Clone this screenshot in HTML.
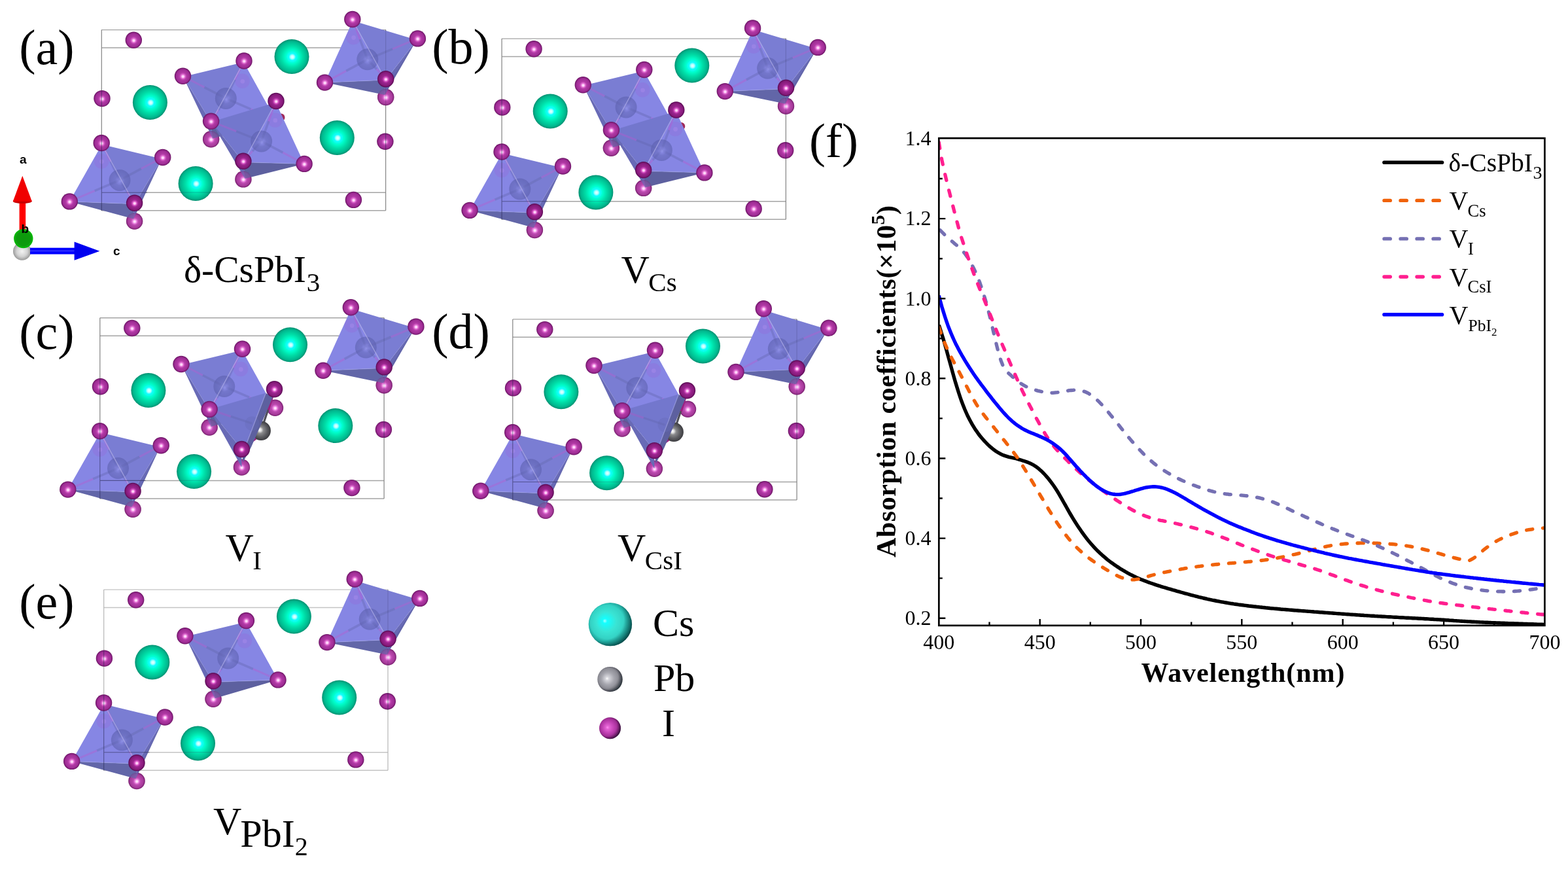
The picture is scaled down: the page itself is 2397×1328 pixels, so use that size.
<!DOCTYPE html>
<html lang="en"><head><meta charset="utf-8"><title>CsPbI3 defect structures and absorption coefficients</title>
<style>html,body{margin:0;padding:0;background:#fff;overflow:hidden}svg{display:block}text{font-family:"Liberation Serif","DejaVu Serif",serif;fill:#000}.sans{font-family:"Liberation Sans","DejaVu Sans",sans-serif;font-weight:bold}.b{font-weight:bold}</style></head><body>
<svg width="2397" height="1328" viewBox="0 0 2397 1328">
<defs>
<radialGradient id="gI" cx="0.5" cy="0.5" r="0.5" fx="0.51" fy="0.53">
<stop offset="0" stop-color="#fff4ff"/><stop offset="0.12" stop-color="#ffcaf8"/><stop offset="0.27" stop-color="#dc66cc"/>
<stop offset="0.44" stop-color="#b23aa6"/><stop offset="0.8" stop-color="#9e2c94"/><stop offset="0.92" stop-color="#7e1c76"/><stop offset="1" stop-color="#6a1662"/></radialGradient>
<radialGradient id="gIf" cx="0.5" cy="0.5" r="0.5" fx="0.51" fy="0.53">
<stop offset="0" stop-color="#fff4ff"/><stop offset="0.12" stop-color="#ffc0f4"/><stop offset="0.27" stop-color="#d24cc0"/>
<stop offset="0.44" stop-color="#9c2690"/><stop offset="0.8" stop-color="#861a7a"/><stop offset="0.92" stop-color="#6a1062"/><stop offset="1" stop-color="#580c52"/></radialGradient>
<radialGradient id="gIb" cx="0.5" cy="0.5" r="0.5" fx="0.51" fy="0.53">
<stop offset="0" stop-color="#fff6ff"/><stop offset="0.12" stop-color="#ffd4fa"/><stop offset="0.27" stop-color="#e67ada"/>
<stop offset="0.44" stop-color="#bc4ab0"/><stop offset="0.8" stop-color="#a63a9a"/><stop offset="0.92" stop-color="#8a2a80"/><stop offset="1" stop-color="#78206e"/></radialGradient>
<radialGradient id="gCs" cx="0.5" cy="0.5" r="0.5" fx="0.52" fy="0.51">
<stop offset="0" stop-color="#eaffff"/><stop offset="0.1" stop-color="#b0ffff"/><stop offset="0.2" stop-color="#10ffff"/>
<stop offset="0.4" stop-color="#00fcc8"/><stop offset="0.62" stop-color="#00dca6"/><stop offset="0.86" stop-color="#00ba90"/>
<stop offset="0.95" stop-color="#00a07c"/><stop offset="1" stop-color="#008e70"/></radialGradient>
<radialGradient id="gPb" cx="0.5" cy="0.5" r="0.5" fx="0.42" fy="0.45">
<stop offset="0" stop-color="#ffffff"/><stop offset="0.15" stop-color="#e8e8e8"/><stop offset="0.35" stop-color="#8a8a8c"/>
<stop offset="0.7" stop-color="#5c5c60"/><stop offset="1" stop-color="#3c3c40"/></radialGradient>
<radialGradient id="gLCs" cx="0.46" cy="0.46" r="0.55" fx="0.37" fy="0.42">
<stop offset="0" stop-color="#a8ffff"/><stop offset="0.1" stop-color="#14ffff"/><stop offset="0.42" stop-color="#3ae4d4"/>
<stop offset="0.7" stop-color="#34d2c4"/><stop offset="0.86" stop-color="#1fa69c"/><stop offset="1" stop-color="#0a6a68"/></radialGradient>
<radialGradient id="gLPb" cx="0.46" cy="0.47" r="0.55" fx="0.38" fy="0.47">
<stop offset="0" stop-color="#ffffff"/><stop offset="0.12" stop-color="#d6d6dc"/><stop offset="0.45" stop-color="#a6a6ae"/>
<stop offset="0.74" stop-color="#8c8c94"/><stop offset="0.9" stop-color="#5e5e68"/><stop offset="1" stop-color="#40404a"/></radialGradient>
<radialGradient id="gLI" cx="0.46" cy="0.47" r="0.55" fx="0.38" fy="0.47">
<stop offset="0" stop-color="#ff8cf2"/><stop offset="0.15" stop-color="#e262d2"/><stop offset="0.5" stop-color="#c040b2"/>
<stop offset="0.76" stop-color="#a22e96"/><stop offset="0.9" stop-color="#74186c"/><stop offset="1" stop-color="#4e0a4a"/></radialGradient>
<radialGradient id="gGreen" cx="0.5" cy="0.5" r="0.5" fx="0.5" fy="0.5">
<stop offset="0" stop-color="#0c980c"/><stop offset="0.75" stop-color="#0c9c0c"/><stop offset="1" stop-color="#04c004"/></radialGradient>
<radialGradient id="gGrey" cx="0.5" cy="0.5" r="0.5" fx="0.5" fy="0.5">
<stop offset="0" stop-color="#f4f4f4"/><stop offset="0.6" stop-color="#d2d2d2"/><stop offset="1" stop-color="#9a9a9a"/></radialGradient>
<radialGradient id="gGhost" cx="0.5" cy="0.5" r="0.5" fx="0.52" fy="0.54">
<stop offset="0" stop-color="#a4a6fa"/><stop offset="0.18" stop-color="#8486dc"/><stop offset="0.45" stop-color="#686cbc"/>
<stop offset="1" stop-color="#5c60ae"/></radialGradient>
<radialGradient id="gShade" cx="0.3" cy="0.36" r="0.85" fx="0.3" fy="0.36">
<stop offset="0" stop-color="#000" stop-opacity="0"/><stop offset="0.6" stop-color="#000" stop-opacity="0"/>
<stop offset="0.8" stop-color="#001818" stop-opacity="0.28"/><stop offset="0.95" stop-color="#001010" stop-opacity="0.55"/></radialGradient>
<filter id="soft" x="-5%" y="-5%" width="110%" height="110%"><feGaussianBlur stdDeviation="0.7"/></filter>
</defs>
<rect width="2397" height="1328" fill="#ffffff"/>
<g transform="translate(0.0,0.0)" filter="url(#soft)">
<path d="M155.3,45.6 H589.6 M155.3,73.0 H589.6 M155.3,294.2 H589.6 M155.3,321.7 H589.6" stroke="#a4a4a4" stroke-width="1.45" fill="none"/>
<path d="M155.3,45.6 V321.7 M589.6,45.6 V321.7" stroke="#888888" stroke-width="1.25" fill="none"/>
<circle cx="204.3" cy="61.3" r="12.7" fill="url(#gI)" />
<circle cx="156.0" cy="150.6" r="12.7" fill="url(#gI)" />
<circle cx="588.9" cy="216.2" r="12.7" fill="url(#gI)" />
<circle cx="540.4" cy="305.4" r="12.7" fill="url(#gI)" />
<circle cx="446.0" cy="86.6" r="26.5" fill="url(#gCs)" />
<circle cx="229.4" cy="156.4" r="26.5" fill="url(#gCs)" />
<circle cx="515.3" cy="210.4" r="26.5" fill="url(#gCs)" />
<circle cx="299.1" cy="280.4" r="26.5" fill="url(#gCs)" />
<circle cx="589.7" cy="148.5" r="12.7" fill="url(#gIb)" />
<polygon points="496.5,126.1 589.7,122.2 588.2,145.0" fill="#6266a8" />
<polygon points="636.9,61.1 589.7,122.2 588.2,145.0" fill="#686bb6" />
<polygon points="636.9,61.1 595.7,125.2 588.2,145.0" fill="#5d619f" opacity="0.55"/>
<polygon points="539.3,31.7 496.5,126.1 589.7,122.2" fill="#8686e4" />
<polygon points="539.3,31.7 636.9,61.1 589.7,122.2" fill="#7a7dd3" />
<circle cx="540.3" cy="57.0" r="11.2" fill="#a050d0" opacity="0.2"/>
<circle cx="540.6" cy="57.5" r="3.4" fill="#c8a0f8" opacity="0.22"/>
<line x1="561.8" y1="90.8" x2="529.1" y2="108.4" stroke="#6468b0" stroke-width="3.6" opacity="0.4"/>
<line x1="529.1" y1="108.4" x2="496.5" y2="126.1" stroke="#b45cd0" stroke-width="3.0" opacity="0.42"/>
<line x1="561.8" y1="90.8" x2="600.1" y2="74.8" stroke="#6468b0" stroke-width="3.6" opacity="0.4"/>
<line x1="600.1" y1="74.8" x2="638.4" y2="58.9" stroke="#b45cd0" stroke-width="3.0" opacity="0.42"/>
<line x1="561.8" y1="90.8" x2="550.3" y2="60.1" stroke="#6468b0" stroke-width="3.6" opacity="0.4"/>
<line x1="550.3" y1="60.1" x2="538.8" y2="29.5" stroke="#b45cd0" stroke-width="3.0" opacity="0.42"/>
<line x1="561.8" y1="90.8" x2="575.8" y2="105.8" stroke="#6468b0" stroke-width="3.6" opacity="0.4"/>
<line x1="575.8" y1="105.8" x2="589.7" y2="120.7" stroke="#b45cd0" stroke-width="3.0" opacity="0.42"/>
<circle cx="561.8" cy="90.8" r="16.5" fill="url(#gGhost)" opacity="0.62"/>
<line x1="539.3" y1="31.7" x2="589.7" y2="122.2" stroke="#b0aee8" stroke-width="1.3" opacity="0.7"/>
<line x1="496.5" y1="126.1" x2="589.7" y2="122.2" stroke="#9ea0e6" stroke-width="1.2" opacity="0.5"/>
<circle cx="589.7" cy="148.5" r="12.7" fill="url(#gIb)" opacity="0.32"/>
<circle cx="538.8" cy="29.5" r="12.7" fill="url(#gI)" />
<circle cx="638.4" cy="58.9" r="12.7" fill="url(#gI)" />
<circle cx="496.5" cy="126.1" r="12.7" fill="url(#gI)" />
<circle cx="589.7" cy="120.7" r="12.7" fill="url(#gIf)" />
<circle cx="205.6" cy="338.0" r="12.7" fill="url(#gIb)" />
<polygon points="106.3,307.9 205.6,311.7 204.1,334.5" fill="#6266a8" />
<polygon points="247.2,242.7 205.6,311.7 204.1,334.5" fill="#686bb6" />
<polygon points="247.2,242.7 211.6,314.7 204.1,334.5" fill="#5d619f" opacity="0.55"/>
<polygon points="155.7,220.7 106.3,307.9 205.6,311.7" fill="#8686e4" />
<polygon points="155.7,220.7 247.2,242.7 205.6,311.7" fill="#7a7dd3" />
<circle cx="155.2" cy="246.5" r="11.2" fill="#a050d0" opacity="0.2"/>
<circle cx="155.5" cy="247.0" r="3.4" fill="#c8a0f8" opacity="0.22"/>
<line x1="183.0" y1="275.4" x2="144.7" y2="291.6" stroke="#6468b0" stroke-width="3.6" opacity="0.4"/>
<line x1="144.7" y1="291.6" x2="106.3" y2="307.9" stroke="#b45cd0" stroke-width="3.0" opacity="0.42"/>
<line x1="183.0" y1="275.4" x2="215.8" y2="257.9" stroke="#6468b0" stroke-width="3.6" opacity="0.4"/>
<line x1="215.8" y1="257.9" x2="248.7" y2="240.5" stroke="#b45cd0" stroke-width="3.0" opacity="0.42"/>
<line x1="183.0" y1="275.4" x2="169.1" y2="246.9" stroke="#6468b0" stroke-width="3.6" opacity="0.4"/>
<line x1="169.1" y1="246.9" x2="155.2" y2="218.5" stroke="#b45cd0" stroke-width="3.0" opacity="0.42"/>
<line x1="183.0" y1="275.4" x2="194.3" y2="292.8" stroke="#6468b0" stroke-width="3.6" opacity="0.4"/>
<line x1="194.3" y1="292.8" x2="205.6" y2="310.2" stroke="#b45cd0" stroke-width="3.0" opacity="0.42"/>
<circle cx="183.0" cy="275.4" r="16.5" fill="url(#gGhost)" opacity="0.62"/>
<line x1="155.7" y1="220.7" x2="205.6" y2="311.7" stroke="#b0aee8" stroke-width="1.3" opacity="0.7"/>
<line x1="106.3" y1="307.9" x2="205.6" y2="311.7" stroke="#9ea0e6" stroke-width="1.2" opacity="0.5"/>
<circle cx="205.6" cy="338.0" r="12.7" fill="url(#gIb)" opacity="0.32"/>
<circle cx="155.2" cy="218.5" r="12.7" fill="url(#gI)" />
<circle cx="248.7" cy="240.5" r="12.7" fill="url(#gI)" />
<circle cx="106.3" cy="307.9" r="12.7" fill="url(#gI)" />
<circle cx="205.6" cy="310.2" r="12.7" fill="url(#gIf)" />
<circle cx="322.6" cy="212.8" r="12.7" fill="url(#gIb)" />
<polygon points="280.0,117.3 322.6,186.8 325.1,211.8" fill="#686bb6" />
<polygon points="322.6,186.8 421.6,183.4 325.1,211.8" fill="#5d619f" />
<polygon points="280.0,117.3 372.5,95.0 322.6,186.8" fill="#7a7dd3" />
<polygon points="372.5,95.0 421.6,183.4 322.6,186.8" fill="#8686e4" />
<circle cx="370.5" cy="123.8" r="11.2" fill="#a050d0" opacity="0.2"/>
<circle cx="370.8" cy="124.3" r="3.4" fill="#c8a0f8" opacity="0.22"/>
<line x1="345.3" y1="150.4" x2="312.4" y2="133.3" stroke="#6468b0" stroke-width="3.6" opacity="0.4"/>
<line x1="312.4" y1="133.3" x2="279.5" y2="116.3" stroke="#b45cd0" stroke-width="3.0" opacity="0.42"/>
<line x1="345.3" y1="150.4" x2="383.5" y2="166.9" stroke="#6468b0" stroke-width="3.6" opacity="0.4"/>
<line x1="383.5" y1="166.9" x2="421.6" y2="183.4" stroke="#b45cd0" stroke-width="3.0" opacity="0.42"/>
<line x1="345.3" y1="150.4" x2="359.1" y2="121.7" stroke="#6468b0" stroke-width="3.6" opacity="0.4"/>
<line x1="359.1" y1="121.7" x2="373.0" y2="93.0" stroke="#b45cd0" stroke-width="3.0" opacity="0.42"/>
<line x1="345.3" y1="150.4" x2="334.0" y2="167.9" stroke="#6468b0" stroke-width="3.6" opacity="0.4"/>
<line x1="334.0" y1="167.9" x2="322.6" y2="185.3" stroke="#b45cd0" stroke-width="3.0" opacity="0.42"/>
<circle cx="345.3" cy="150.4" r="16.5" fill="url(#gGhost)" opacity="0.62"/>
<line x1="372.5" y1="95.0" x2="322.6" y2="186.8" stroke="#b0aee8" stroke-width="1.3" opacity="0.7"/>
<line x1="322.6" y1="186.8" x2="421.6" y2="183.4" stroke="#9ea0e6" stroke-width="1.2" opacity="0.45"/>
<circle cx="322.6" cy="212.8" r="12.7" fill="url(#gIb)" opacity="0.32"/>
<circle cx="279.5" cy="116.3" r="12.7" fill="url(#gI)" />
<circle cx="373.0" cy="93.0" r="12.7" fill="url(#gI)" />
<circle cx="429.5" cy="179.5" r="6.0" fill="#a02a5a" />
<circle cx="371.9" cy="273.9" r="12.7" fill="url(#gIb)" />
<polygon points="323.1,186.3 371.9,247.8 374.4,272.9" fill="#686bb6" />
<polygon points="371.9,247.8 465.1,250.4 374.4,272.9" fill="#5d619f" />
<polygon points="323.1,186.3 421.5,156.5 371.9,247.8" fill="#7377cd" />
<polygon points="421.5,156.5 465.1,250.4 371.9,247.8" fill="#8686e4" />
<circle cx="420.5" cy="183.5" r="11.2" fill="#a050d0" opacity="0.2"/>
<circle cx="420.8" cy="184.0" r="3.4" fill="#c8a0f8" opacity="0.22"/>
<line x1="399.6" y1="215.9" x2="361.1" y2="200.6" stroke="#6468b0" stroke-width="3.6" opacity="0.4"/>
<line x1="361.1" y1="200.6" x2="322.6" y2="185.3" stroke="#b45cd0" stroke-width="3.0" opacity="0.42"/>
<line x1="399.6" y1="215.9" x2="432.4" y2="233.2" stroke="#6468b0" stroke-width="3.6" opacity="0.4"/>
<line x1="432.4" y1="233.2" x2="465.1" y2="250.4" stroke="#b45cd0" stroke-width="3.0" opacity="0.42"/>
<line x1="399.6" y1="215.9" x2="410.8" y2="185.2" stroke="#6468b0" stroke-width="3.6" opacity="0.4"/>
<line x1="410.8" y1="185.2" x2="422.0" y2="154.5" stroke="#b45cd0" stroke-width="3.0" opacity="0.42"/>
<line x1="399.6" y1="215.9" x2="385.8" y2="231.1" stroke="#6468b0" stroke-width="3.6" opacity="0.4"/>
<line x1="385.8" y1="231.1" x2="371.9" y2="246.3" stroke="#b45cd0" stroke-width="3.0" opacity="0.42"/>
<circle cx="399.6" cy="215.9" r="16.5" fill="url(#gGhost)" opacity="0.62"/>
<line x1="421.5" y1="156.5" x2="371.9" y2="247.8" stroke="#b0aee8" stroke-width="1.3" opacity="0.7"/>
<line x1="371.9" y1="247.8" x2="465.1" y2="250.4" stroke="#9ea0e6" stroke-width="1.2" opacity="0.45"/>
<circle cx="371.9" cy="273.9" r="12.7" fill="url(#gIb)" opacity="0.32"/>
<circle cx="322.6" cy="185.3" r="12.7" fill="url(#gI)" />
<circle cx="422.0" cy="154.5" r="12.7" fill="url(#gIf)" />
<circle cx="465.1" cy="250.4" r="12.7" fill="url(#gI)" />
<circle cx="371.9" cy="246.3" r="12.7" fill="url(#gIf)" />
<g stroke="#26264e" stroke-width="1.1" opacity="0.55" fill="none">
<path d="M155.3,139 V162.5 M155.3,207 V322 M155.3,294.2 H225 M589.6,204 V229"/>
</g>
<g stroke="#26264e" stroke-width="1.2" opacity="0.2" fill="none">
<path d="M277,294.2 H321.5 M589.6,45 V108 M589.6,134 V161"/>
</g>
</g>
<g transform="translate(611.8,13.5)" filter="url(#soft)">
<path d="M155.3,45.6 H589.6 M155.3,73.0 H589.6 M155.3,294.2 H589.6 M155.3,321.7 H589.6" stroke="#a4a4a4" stroke-width="1.45" fill="none"/>
<path d="M155.3,45.6 V321.7 M589.6,45.6 V321.7" stroke="#888888" stroke-width="1.25" fill="none"/>
<circle cx="204.3" cy="61.3" r="12.7" fill="url(#gI)" />
<circle cx="156.0" cy="150.6" r="12.7" fill="url(#gI)" />
<circle cx="588.9" cy="216.2" r="12.7" fill="url(#gI)" />
<circle cx="540.4" cy="305.4" r="12.7" fill="url(#gI)" />
<circle cx="446.0" cy="86.6" r="26.5" fill="url(#gCs)" />
<circle cx="229.4" cy="156.4" r="26.5" fill="url(#gCs)" />
<circle cx="299.1" cy="280.4" r="26.5" fill="url(#gCs)" />
<circle cx="589.7" cy="148.5" r="12.7" fill="url(#gIb)" />
<polygon points="496.5,126.1 589.7,122.2 588.2,145.0" fill="#6266a8" />
<polygon points="636.9,61.1 589.7,122.2 588.2,145.0" fill="#686bb6" />
<polygon points="636.9,61.1 595.7,125.2 588.2,145.0" fill="#5d619f" opacity="0.55"/>
<polygon points="539.3,31.7 496.5,126.1 589.7,122.2" fill="#8686e4" />
<polygon points="539.3,31.7 636.9,61.1 589.7,122.2" fill="#7a7dd3" />
<circle cx="540.3" cy="57.0" r="11.2" fill="#a050d0" opacity="0.2"/>
<circle cx="540.6" cy="57.5" r="3.4" fill="#c8a0f8" opacity="0.22"/>
<line x1="561.8" y1="90.8" x2="529.1" y2="108.4" stroke="#6468b0" stroke-width="3.6" opacity="0.4"/>
<line x1="529.1" y1="108.4" x2="496.5" y2="126.1" stroke="#b45cd0" stroke-width="3.0" opacity="0.42"/>
<line x1="561.8" y1="90.8" x2="600.1" y2="74.8" stroke="#6468b0" stroke-width="3.6" opacity="0.4"/>
<line x1="600.1" y1="74.8" x2="638.4" y2="58.9" stroke="#b45cd0" stroke-width="3.0" opacity="0.42"/>
<line x1="561.8" y1="90.8" x2="550.3" y2="60.1" stroke="#6468b0" stroke-width="3.6" opacity="0.4"/>
<line x1="550.3" y1="60.1" x2="538.8" y2="29.5" stroke="#b45cd0" stroke-width="3.0" opacity="0.42"/>
<line x1="561.8" y1="90.8" x2="575.8" y2="105.8" stroke="#6468b0" stroke-width="3.6" opacity="0.4"/>
<line x1="575.8" y1="105.8" x2="589.7" y2="120.7" stroke="#b45cd0" stroke-width="3.0" opacity="0.42"/>
<circle cx="561.8" cy="90.8" r="16.5" fill="url(#gGhost)" opacity="0.62"/>
<line x1="539.3" y1="31.7" x2="589.7" y2="122.2" stroke="#b0aee8" stroke-width="1.3" opacity="0.7"/>
<line x1="496.5" y1="126.1" x2="589.7" y2="122.2" stroke="#9ea0e6" stroke-width="1.2" opacity="0.5"/>
<circle cx="589.7" cy="148.5" r="12.7" fill="url(#gIb)" opacity="0.32"/>
<circle cx="538.8" cy="29.5" r="12.7" fill="url(#gI)" />
<circle cx="638.4" cy="58.9" r="12.7" fill="url(#gI)" />
<circle cx="496.5" cy="126.1" r="12.7" fill="url(#gI)" />
<circle cx="589.7" cy="120.7" r="12.7" fill="url(#gIf)" />
<circle cx="205.6" cy="338.0" r="12.7" fill="url(#gIb)" />
<polygon points="106.3,307.9 205.6,311.7 204.1,334.5" fill="#6266a8" />
<polygon points="247.2,242.7 205.6,311.7 204.1,334.5" fill="#686bb6" />
<polygon points="247.2,242.7 211.6,314.7 204.1,334.5" fill="#5d619f" opacity="0.55"/>
<polygon points="155.7,220.7 106.3,307.9 205.6,311.7" fill="#8686e4" />
<polygon points="155.7,220.7 247.2,242.7 205.6,311.7" fill="#7a7dd3" />
<circle cx="155.2" cy="246.5" r="11.2" fill="#a050d0" opacity="0.2"/>
<circle cx="155.5" cy="247.0" r="3.4" fill="#c8a0f8" opacity="0.22"/>
<line x1="183.0" y1="275.4" x2="144.7" y2="291.6" stroke="#6468b0" stroke-width="3.6" opacity="0.4"/>
<line x1="144.7" y1="291.6" x2="106.3" y2="307.9" stroke="#b45cd0" stroke-width="3.0" opacity="0.42"/>
<line x1="183.0" y1="275.4" x2="215.8" y2="257.9" stroke="#6468b0" stroke-width="3.6" opacity="0.4"/>
<line x1="215.8" y1="257.9" x2="248.7" y2="240.5" stroke="#b45cd0" stroke-width="3.0" opacity="0.42"/>
<line x1="183.0" y1="275.4" x2="169.1" y2="246.9" stroke="#6468b0" stroke-width="3.6" opacity="0.4"/>
<line x1="169.1" y1="246.9" x2="155.2" y2="218.5" stroke="#b45cd0" stroke-width="3.0" opacity="0.42"/>
<line x1="183.0" y1="275.4" x2="194.3" y2="292.8" stroke="#6468b0" stroke-width="3.6" opacity="0.4"/>
<line x1="194.3" y1="292.8" x2="205.6" y2="310.2" stroke="#b45cd0" stroke-width="3.0" opacity="0.42"/>
<circle cx="183.0" cy="275.4" r="16.5" fill="url(#gGhost)" opacity="0.62"/>
<line x1="155.7" y1="220.7" x2="205.6" y2="311.7" stroke="#b0aee8" stroke-width="1.3" opacity="0.7"/>
<line x1="106.3" y1="307.9" x2="205.6" y2="311.7" stroke="#9ea0e6" stroke-width="1.2" opacity="0.5"/>
<circle cx="205.6" cy="338.0" r="12.7" fill="url(#gIb)" opacity="0.32"/>
<circle cx="155.2" cy="218.5" r="12.7" fill="url(#gI)" />
<circle cx="248.7" cy="240.5" r="12.7" fill="url(#gI)" />
<circle cx="106.3" cy="307.9" r="12.7" fill="url(#gI)" />
<circle cx="205.6" cy="310.2" r="12.7" fill="url(#gIf)" />
<circle cx="322.6" cy="212.8" r="12.7" fill="url(#gIb)" />
<polygon points="280.0,117.3 322.6,186.8 325.1,211.8" fill="#686bb6" />
<polygon points="322.6,186.8 421.6,183.4 325.1,211.8" fill="#5d619f" />
<polygon points="280.0,117.3 372.5,95.0 322.6,186.8" fill="#7a7dd3" />
<polygon points="372.5,95.0 421.6,183.4 322.6,186.8" fill="#8686e4" />
<circle cx="370.5" cy="123.8" r="11.2" fill="#a050d0" opacity="0.2"/>
<circle cx="370.8" cy="124.3" r="3.4" fill="#c8a0f8" opacity="0.22"/>
<line x1="345.3" y1="150.4" x2="312.4" y2="133.3" stroke="#6468b0" stroke-width="3.6" opacity="0.4"/>
<line x1="312.4" y1="133.3" x2="279.5" y2="116.3" stroke="#b45cd0" stroke-width="3.0" opacity="0.42"/>
<line x1="345.3" y1="150.4" x2="383.5" y2="166.9" stroke="#6468b0" stroke-width="3.6" opacity="0.4"/>
<line x1="383.5" y1="166.9" x2="421.6" y2="183.4" stroke="#b45cd0" stroke-width="3.0" opacity="0.42"/>
<line x1="345.3" y1="150.4" x2="359.1" y2="121.7" stroke="#6468b0" stroke-width="3.6" opacity="0.4"/>
<line x1="359.1" y1="121.7" x2="373.0" y2="93.0" stroke="#b45cd0" stroke-width="3.0" opacity="0.42"/>
<line x1="345.3" y1="150.4" x2="334.0" y2="167.9" stroke="#6468b0" stroke-width="3.6" opacity="0.4"/>
<line x1="334.0" y1="167.9" x2="322.6" y2="185.3" stroke="#b45cd0" stroke-width="3.0" opacity="0.42"/>
<circle cx="345.3" cy="150.4" r="16.5" fill="url(#gGhost)" opacity="0.62"/>
<line x1="372.5" y1="95.0" x2="322.6" y2="186.8" stroke="#b0aee8" stroke-width="1.3" opacity="0.7"/>
<line x1="322.6" y1="186.8" x2="421.6" y2="183.4" stroke="#9ea0e6" stroke-width="1.2" opacity="0.45"/>
<circle cx="322.6" cy="212.8" r="12.7" fill="url(#gIb)" opacity="0.32"/>
<circle cx="279.5" cy="116.3" r="12.7" fill="url(#gI)" />
<circle cx="373.0" cy="93.0" r="12.7" fill="url(#gI)" />
<circle cx="429.5" cy="179.5" r="6.0" fill="#a02a5a" />
<circle cx="371.9" cy="273.9" r="12.7" fill="url(#gIb)" />
<polygon points="323.1,186.3 371.9,247.8 374.4,272.9" fill="#686bb6" />
<polygon points="371.9,247.8 465.1,250.4 374.4,272.9" fill="#5d619f" />
<polygon points="323.1,186.3 421.5,156.5 371.9,247.8" fill="#7377cd" />
<polygon points="421.5,156.5 465.1,250.4 371.9,247.8" fill="#8686e4" />
<circle cx="420.5" cy="183.5" r="11.2" fill="#a050d0" opacity="0.2"/>
<circle cx="420.8" cy="184.0" r="3.4" fill="#c8a0f8" opacity="0.22"/>
<line x1="399.6" y1="215.9" x2="361.1" y2="200.6" stroke="#6468b0" stroke-width="3.6" opacity="0.4"/>
<line x1="361.1" y1="200.6" x2="322.6" y2="185.3" stroke="#b45cd0" stroke-width="3.0" opacity="0.42"/>
<line x1="399.6" y1="215.9" x2="432.4" y2="233.2" stroke="#6468b0" stroke-width="3.6" opacity="0.4"/>
<line x1="432.4" y1="233.2" x2="465.1" y2="250.4" stroke="#b45cd0" stroke-width="3.0" opacity="0.42"/>
<line x1="399.6" y1="215.9" x2="410.8" y2="185.2" stroke="#6468b0" stroke-width="3.6" opacity="0.4"/>
<line x1="410.8" y1="185.2" x2="422.0" y2="154.5" stroke="#b45cd0" stroke-width="3.0" opacity="0.42"/>
<line x1="399.6" y1="215.9" x2="385.8" y2="231.1" stroke="#6468b0" stroke-width="3.6" opacity="0.4"/>
<line x1="385.8" y1="231.1" x2="371.9" y2="246.3" stroke="#b45cd0" stroke-width="3.0" opacity="0.42"/>
<circle cx="399.6" cy="215.9" r="16.5" fill="url(#gGhost)" opacity="0.62"/>
<line x1="421.5" y1="156.5" x2="371.9" y2="247.8" stroke="#b0aee8" stroke-width="1.3" opacity="0.7"/>
<line x1="371.9" y1="247.8" x2="465.1" y2="250.4" stroke="#9ea0e6" stroke-width="1.2" opacity="0.45"/>
<circle cx="371.9" cy="273.9" r="12.7" fill="url(#gIb)" opacity="0.32"/>
<circle cx="322.6" cy="185.3" r="12.7" fill="url(#gI)" />
<circle cx="422.0" cy="154.5" r="12.7" fill="url(#gIf)" />
<circle cx="465.1" cy="250.4" r="12.7" fill="url(#gI)" />
<circle cx="371.9" cy="246.3" r="12.7" fill="url(#gIf)" />
<g stroke="#26264e" stroke-width="1.1" opacity="0.55" fill="none">
<path d="M155.3,139 V162.5 M155.3,207 V322 M155.3,294.2 H225 M589.6,204 V229"/>
</g>
<g stroke="#26264e" stroke-width="1.2" opacity="0.2" fill="none">
<path d="M277,294.2 H321.5 M589.6,45 V108 M589.6,134 V161"/>
</g>
</g>
<g transform="translate(-2.5,440.2)" filter="url(#soft)">
<path d="M155.3,45.6 H589.6 M155.3,73.0 H589.6 M155.3,294.2 H589.6 M155.3,321.7 H589.6" stroke="#a4a4a4" stroke-width="1.45" fill="none"/>
<path d="M155.3,45.6 V321.7 M589.6,45.6 V321.7" stroke="#888888" stroke-width="1.25" fill="none"/>
<circle cx="204.3" cy="61.3" r="12.7" fill="url(#gI)" />
<circle cx="156.0" cy="150.6" r="12.7" fill="url(#gI)" />
<circle cx="588.9" cy="216.2" r="12.7" fill="url(#gI)" />
<circle cx="540.4" cy="305.4" r="12.7" fill="url(#gI)" />
<circle cx="446.0" cy="86.6" r="26.5" fill="url(#gCs)" />
<circle cx="229.4" cy="156.4" r="26.5" fill="url(#gCs)" />
<circle cx="515.3" cy="210.4" r="26.5" fill="url(#gCs)" />
<circle cx="299.1" cy="280.4" r="26.5" fill="url(#gCs)" />
<circle cx="589.7" cy="148.5" r="12.7" fill="url(#gIb)" />
<polygon points="496.5,126.1 589.7,122.2 588.2,145.0" fill="#6266a8" />
<polygon points="636.9,61.1 589.7,122.2 588.2,145.0" fill="#686bb6" />
<polygon points="636.9,61.1 595.7,125.2 588.2,145.0" fill="#5d619f" opacity="0.55"/>
<polygon points="539.3,31.7 496.5,126.1 589.7,122.2" fill="#8686e4" />
<polygon points="539.3,31.7 636.9,61.1 589.7,122.2" fill="#7a7dd3" />
<circle cx="540.3" cy="57.0" r="11.2" fill="#a050d0" opacity="0.2"/>
<circle cx="540.6" cy="57.5" r="3.4" fill="#c8a0f8" opacity="0.22"/>
<line x1="561.8" y1="90.8" x2="529.1" y2="108.4" stroke="#6468b0" stroke-width="3.6" opacity="0.4"/>
<line x1="529.1" y1="108.4" x2="496.5" y2="126.1" stroke="#b45cd0" stroke-width="3.0" opacity="0.42"/>
<line x1="561.8" y1="90.8" x2="600.1" y2="74.8" stroke="#6468b0" stroke-width="3.6" opacity="0.4"/>
<line x1="600.1" y1="74.8" x2="638.4" y2="58.9" stroke="#b45cd0" stroke-width="3.0" opacity="0.42"/>
<line x1="561.8" y1="90.8" x2="550.3" y2="60.1" stroke="#6468b0" stroke-width="3.6" opacity="0.4"/>
<line x1="550.3" y1="60.1" x2="538.8" y2="29.5" stroke="#b45cd0" stroke-width="3.0" opacity="0.42"/>
<line x1="561.8" y1="90.8" x2="575.8" y2="105.8" stroke="#6468b0" stroke-width="3.6" opacity="0.4"/>
<line x1="575.8" y1="105.8" x2="589.7" y2="120.7" stroke="#b45cd0" stroke-width="3.0" opacity="0.42"/>
<circle cx="561.8" cy="90.8" r="16.5" fill="url(#gGhost)" opacity="0.62"/>
<line x1="539.3" y1="31.7" x2="589.7" y2="122.2" stroke="#b0aee8" stroke-width="1.3" opacity="0.7"/>
<line x1="496.5" y1="126.1" x2="589.7" y2="122.2" stroke="#9ea0e6" stroke-width="1.2" opacity="0.5"/>
<circle cx="589.7" cy="148.5" r="12.7" fill="url(#gIb)" opacity="0.32"/>
<circle cx="538.8" cy="29.5" r="12.7" fill="url(#gI)" />
<circle cx="638.4" cy="58.9" r="12.7" fill="url(#gI)" />
<circle cx="496.5" cy="126.1" r="12.7" fill="url(#gI)" />
<circle cx="589.7" cy="120.7" r="12.7" fill="url(#gIf)" />
<circle cx="205.6" cy="338.0" r="12.7" fill="url(#gIb)" />
<polygon points="106.3,307.9 205.6,311.7 204.1,334.5" fill="#6266a8" />
<polygon points="247.2,242.7 205.6,311.7 204.1,334.5" fill="#686bb6" />
<polygon points="247.2,242.7 211.6,314.7 204.1,334.5" fill="#5d619f" opacity="0.55"/>
<polygon points="155.7,220.7 106.3,307.9 205.6,311.7" fill="#8686e4" />
<polygon points="155.7,220.7 247.2,242.7 205.6,311.7" fill="#7a7dd3" />
<circle cx="155.2" cy="246.5" r="11.2" fill="#a050d0" opacity="0.2"/>
<circle cx="155.5" cy="247.0" r="3.4" fill="#c8a0f8" opacity="0.22"/>
<line x1="183.0" y1="275.4" x2="144.7" y2="291.6" stroke="#6468b0" stroke-width="3.6" opacity="0.4"/>
<line x1="144.7" y1="291.6" x2="106.3" y2="307.9" stroke="#b45cd0" stroke-width="3.0" opacity="0.42"/>
<line x1="183.0" y1="275.4" x2="215.8" y2="257.9" stroke="#6468b0" stroke-width="3.6" opacity="0.4"/>
<line x1="215.8" y1="257.9" x2="248.7" y2="240.5" stroke="#b45cd0" stroke-width="3.0" opacity="0.42"/>
<line x1="183.0" y1="275.4" x2="169.1" y2="246.9" stroke="#6468b0" stroke-width="3.6" opacity="0.4"/>
<line x1="169.1" y1="246.9" x2="155.2" y2="218.5" stroke="#b45cd0" stroke-width="3.0" opacity="0.42"/>
<line x1="183.0" y1="275.4" x2="194.3" y2="292.8" stroke="#6468b0" stroke-width="3.6" opacity="0.4"/>
<line x1="194.3" y1="292.8" x2="205.6" y2="310.2" stroke="#b45cd0" stroke-width="3.0" opacity="0.42"/>
<circle cx="183.0" cy="275.4" r="16.5" fill="url(#gGhost)" opacity="0.62"/>
<line x1="155.7" y1="220.7" x2="205.6" y2="311.7" stroke="#b0aee8" stroke-width="1.3" opacity="0.7"/>
<line x1="106.3" y1="307.9" x2="205.6" y2="311.7" stroke="#9ea0e6" stroke-width="1.2" opacity="0.5"/>
<circle cx="205.6" cy="338.0" r="12.7" fill="url(#gIb)" opacity="0.32"/>
<circle cx="155.2" cy="218.5" r="12.7" fill="url(#gI)" />
<circle cx="248.7" cy="240.5" r="12.7" fill="url(#gI)" />
<circle cx="106.3" cy="307.9" r="12.7" fill="url(#gI)" />
<circle cx="205.6" cy="310.2" r="12.7" fill="url(#gIf)" />
<circle cx="322.6" cy="212.8" r="12.7" fill="url(#gIb)" />
<polygon points="280.0,117.3 322.6,186.8 325.1,211.8" fill="#686bb6" />
<polygon points="322.6,186.8 421.6,183.4 325.1,211.8" fill="#5d619f" />
<polygon points="280.0,117.3 372.5,95.0 322.6,186.8" fill="#7a7dd3" />
<polygon points="372.5,95.0 421.6,183.4 322.6,186.8" fill="#8686e4" />
<circle cx="370.5" cy="123.8" r="11.2" fill="#a050d0" opacity="0.2"/>
<circle cx="370.8" cy="124.3" r="3.4" fill="#c8a0f8" opacity="0.22"/>
<line x1="345.3" y1="150.4" x2="312.4" y2="133.3" stroke="#6468b0" stroke-width="3.6" opacity="0.4"/>
<line x1="312.4" y1="133.3" x2="279.5" y2="116.3" stroke="#b45cd0" stroke-width="3.0" opacity="0.42"/>
<line x1="345.3" y1="150.4" x2="383.5" y2="166.9" stroke="#6468b0" stroke-width="3.6" opacity="0.4"/>
<line x1="383.5" y1="166.9" x2="421.6" y2="183.4" stroke="#b45cd0" stroke-width="3.0" opacity="0.42"/>
<line x1="345.3" y1="150.4" x2="359.1" y2="121.7" stroke="#6468b0" stroke-width="3.6" opacity="0.4"/>
<line x1="359.1" y1="121.7" x2="373.0" y2="93.0" stroke="#b45cd0" stroke-width="3.0" opacity="0.42"/>
<line x1="345.3" y1="150.4" x2="334.0" y2="167.9" stroke="#6468b0" stroke-width="3.6" opacity="0.4"/>
<line x1="334.0" y1="167.9" x2="322.6" y2="185.3" stroke="#b45cd0" stroke-width="3.0" opacity="0.42"/>
<circle cx="345.3" cy="150.4" r="16.5" fill="url(#gGhost)" opacity="0.62"/>
<line x1="372.5" y1="95.0" x2="322.6" y2="186.8" stroke="#b0aee8" stroke-width="1.3" opacity="0.7"/>
<line x1="322.6" y1="186.8" x2="421.6" y2="183.4" stroke="#9ea0e6" stroke-width="1.2" opacity="0.45"/>
<circle cx="322.6" cy="212.8" r="12.7" fill="url(#gIb)" opacity="0.32"/>
<circle cx="279.5" cy="116.3" r="12.7" fill="url(#gI)" />
<circle cx="373.0" cy="93.0" r="12.7" fill="url(#gI)" />
<circle cx="423.0" cy="183.0" r="12.7" fill="url(#gIb)" />
<circle cx="371.9" cy="273.9" r="12.7" fill="url(#gIb)" />
<line x1="401.6" y1="218.0" x2="420.0" y2="162.5" stroke="#50505a" stroke-width="3.2" />
<circle cx="401.6" cy="218.0" r="14.8" fill="url(#gPb)" />
<line x1="420.0" y1="162.5" x2="412.8" y2="186.2" stroke="#a01c80" stroke-width="3.2" />
<line x1="393.6" y1="230.0" x2="371.9" y2="246.3" stroke="#a01c80" stroke-width="3.2" />
<polygon points="322.6,185.3 371.9,246.3 371.9,273.9" fill="#686bb6" />
<polygon points="408.5,160.5 420.0,165.5 386.5,243.0 374.0,266.0 371.9,246.3 378.0,240.0" fill="#5d619f" />
<polygon points="322.6,185.3 409.0,160.3 378.5,240.0 371.9,246.3" fill="#7377cd" />
<circle cx="388.0" cy="207.0" r="11.0" fill="#676bb8" opacity="0.4"/>
<line x1="322.6" y1="185.3" x2="355.3" y2="196.2" stroke="#a060c8" stroke-width="3.2" opacity="0.5"/>
<line x1="355.3" y1="196.2" x2="388.0" y2="207.0" stroke="#6468b0" stroke-width="3.4" opacity="0.4"/>
<line x1="409.0" y1="160.3" x2="378.5" y2="240.0" stroke="#aeb0ea" stroke-width="1.2" opacity="0.6"/>
<circle cx="322.6" cy="185.3" r="12.7" fill="url(#gI)" />
<circle cx="422.0" cy="154.5" r="12.7" fill="url(#gIf)" />
<circle cx="371.9" cy="246.3" r="12.7" fill="url(#gIf)" />
<g stroke="#26264e" stroke-width="1.1" opacity="0.55" fill="none">
<path d="M155.3,139 V162.5 M155.3,207 V322 M155.3,294.2 H225 M589.6,204 V229"/>
</g>
<g stroke="#26264e" stroke-width="1.2" opacity="0.2" fill="none">
<path d="M277,294.2 H321.5 M589.6,45 V108 M589.6,134 V161"/>
</g>
</g>
<g transform="translate(628.5,442.3)" filter="url(#soft)">
<path d="M155.3,45.6 H589.6 M155.3,73.0 H589.6 M155.3,294.2 H589.6 M155.3,321.7 H589.6" stroke="#a4a4a4" stroke-width="1.45" fill="none"/>
<path d="M155.3,45.6 V321.7 M589.6,45.6 V321.7" stroke="#888888" stroke-width="1.25" fill="none"/>
<circle cx="204.3" cy="61.3" r="12.7" fill="url(#gI)" />
<circle cx="156.0" cy="150.6" r="12.7" fill="url(#gI)" />
<circle cx="588.9" cy="216.2" r="12.7" fill="url(#gI)" />
<circle cx="540.4" cy="305.4" r="12.7" fill="url(#gI)" />
<circle cx="446.0" cy="86.6" r="26.5" fill="url(#gCs)" />
<circle cx="229.4" cy="156.4" r="26.5" fill="url(#gCs)" />
<circle cx="299.1" cy="280.4" r="26.5" fill="url(#gCs)" />
<circle cx="589.7" cy="148.5" r="12.7" fill="url(#gIb)" />
<polygon points="496.5,126.1 589.7,122.2 588.2,145.0" fill="#6266a8" />
<polygon points="636.9,61.1 589.7,122.2 588.2,145.0" fill="#686bb6" />
<polygon points="636.9,61.1 595.7,125.2 588.2,145.0" fill="#5d619f" opacity="0.55"/>
<polygon points="539.3,31.7 496.5,126.1 589.7,122.2" fill="#8686e4" />
<polygon points="539.3,31.7 636.9,61.1 589.7,122.2" fill="#7a7dd3" />
<circle cx="540.3" cy="57.0" r="11.2" fill="#a050d0" opacity="0.2"/>
<circle cx="540.6" cy="57.5" r="3.4" fill="#c8a0f8" opacity="0.22"/>
<line x1="561.8" y1="90.8" x2="529.1" y2="108.4" stroke="#6468b0" stroke-width="3.6" opacity="0.4"/>
<line x1="529.1" y1="108.4" x2="496.5" y2="126.1" stroke="#b45cd0" stroke-width="3.0" opacity="0.42"/>
<line x1="561.8" y1="90.8" x2="600.1" y2="74.8" stroke="#6468b0" stroke-width="3.6" opacity="0.4"/>
<line x1="600.1" y1="74.8" x2="638.4" y2="58.9" stroke="#b45cd0" stroke-width="3.0" opacity="0.42"/>
<line x1="561.8" y1="90.8" x2="550.3" y2="60.1" stroke="#6468b0" stroke-width="3.6" opacity="0.4"/>
<line x1="550.3" y1="60.1" x2="538.8" y2="29.5" stroke="#b45cd0" stroke-width="3.0" opacity="0.42"/>
<line x1="561.8" y1="90.8" x2="575.8" y2="105.8" stroke="#6468b0" stroke-width="3.6" opacity="0.4"/>
<line x1="575.8" y1="105.8" x2="589.7" y2="120.7" stroke="#b45cd0" stroke-width="3.0" opacity="0.42"/>
<circle cx="561.8" cy="90.8" r="16.5" fill="url(#gGhost)" opacity="0.62"/>
<line x1="539.3" y1="31.7" x2="589.7" y2="122.2" stroke="#b0aee8" stroke-width="1.3" opacity="0.7"/>
<line x1="496.5" y1="126.1" x2="589.7" y2="122.2" stroke="#9ea0e6" stroke-width="1.2" opacity="0.5"/>
<circle cx="589.7" cy="148.5" r="12.7" fill="url(#gIb)" opacity="0.32"/>
<circle cx="538.8" cy="29.5" r="12.7" fill="url(#gI)" />
<circle cx="638.4" cy="58.9" r="12.7" fill="url(#gI)" />
<circle cx="496.5" cy="126.1" r="12.7" fill="url(#gI)" />
<circle cx="589.7" cy="120.7" r="12.7" fill="url(#gIf)" />
<circle cx="205.6" cy="338.0" r="12.7" fill="url(#gIb)" />
<polygon points="106.3,307.9 205.6,311.7 204.1,334.5" fill="#6266a8" />
<polygon points="247.2,242.7 205.6,311.7 204.1,334.5" fill="#686bb6" />
<polygon points="247.2,242.7 211.6,314.7 204.1,334.5" fill="#5d619f" opacity="0.55"/>
<polygon points="155.7,220.7 106.3,307.9 205.6,311.7" fill="#8686e4" />
<polygon points="155.7,220.7 247.2,242.7 205.6,311.7" fill="#7a7dd3" />
<circle cx="155.2" cy="246.5" r="11.2" fill="#a050d0" opacity="0.2"/>
<circle cx="155.5" cy="247.0" r="3.4" fill="#c8a0f8" opacity="0.22"/>
<line x1="183.0" y1="275.4" x2="144.7" y2="291.6" stroke="#6468b0" stroke-width="3.6" opacity="0.4"/>
<line x1="144.7" y1="291.6" x2="106.3" y2="307.9" stroke="#b45cd0" stroke-width="3.0" opacity="0.42"/>
<line x1="183.0" y1="275.4" x2="215.8" y2="257.9" stroke="#6468b0" stroke-width="3.6" opacity="0.4"/>
<line x1="215.8" y1="257.9" x2="248.7" y2="240.5" stroke="#b45cd0" stroke-width="3.0" opacity="0.42"/>
<line x1="183.0" y1="275.4" x2="169.1" y2="246.9" stroke="#6468b0" stroke-width="3.6" opacity="0.4"/>
<line x1="169.1" y1="246.9" x2="155.2" y2="218.5" stroke="#b45cd0" stroke-width="3.0" opacity="0.42"/>
<line x1="183.0" y1="275.4" x2="194.3" y2="292.8" stroke="#6468b0" stroke-width="3.6" opacity="0.4"/>
<line x1="194.3" y1="292.8" x2="205.6" y2="310.2" stroke="#b45cd0" stroke-width="3.0" opacity="0.42"/>
<circle cx="183.0" cy="275.4" r="16.5" fill="url(#gGhost)" opacity="0.62"/>
<line x1="155.7" y1="220.7" x2="205.6" y2="311.7" stroke="#b0aee8" stroke-width="1.3" opacity="0.7"/>
<line x1="106.3" y1="307.9" x2="205.6" y2="311.7" stroke="#9ea0e6" stroke-width="1.2" opacity="0.5"/>
<circle cx="205.6" cy="338.0" r="12.7" fill="url(#gIb)" opacity="0.32"/>
<circle cx="155.2" cy="218.5" r="12.7" fill="url(#gI)" />
<circle cx="248.7" cy="240.5" r="12.7" fill="url(#gI)" />
<circle cx="106.3" cy="307.9" r="12.7" fill="url(#gI)" />
<circle cx="205.6" cy="310.2" r="12.7" fill="url(#gIf)" />
<circle cx="322.6" cy="212.8" r="12.7" fill="url(#gIb)" />
<polygon points="280.0,117.3 322.6,186.8 325.1,211.8" fill="#686bb6" />
<polygon points="322.6,186.8 421.6,183.4 325.1,211.8" fill="#5d619f" />
<polygon points="280.0,117.3 372.5,95.0 322.6,186.8" fill="#7a7dd3" />
<polygon points="372.5,95.0 421.6,183.4 322.6,186.8" fill="#8686e4" />
<circle cx="370.5" cy="123.8" r="11.2" fill="#a050d0" opacity="0.2"/>
<circle cx="370.8" cy="124.3" r="3.4" fill="#c8a0f8" opacity="0.22"/>
<line x1="345.3" y1="150.4" x2="312.4" y2="133.3" stroke="#6468b0" stroke-width="3.6" opacity="0.4"/>
<line x1="312.4" y1="133.3" x2="279.5" y2="116.3" stroke="#b45cd0" stroke-width="3.0" opacity="0.42"/>
<line x1="345.3" y1="150.4" x2="383.5" y2="166.9" stroke="#6468b0" stroke-width="3.6" opacity="0.4"/>
<line x1="383.5" y1="166.9" x2="421.6" y2="183.4" stroke="#b45cd0" stroke-width="3.0" opacity="0.42"/>
<line x1="345.3" y1="150.4" x2="359.1" y2="121.7" stroke="#6468b0" stroke-width="3.6" opacity="0.4"/>
<line x1="359.1" y1="121.7" x2="373.0" y2="93.0" stroke="#b45cd0" stroke-width="3.0" opacity="0.42"/>
<line x1="345.3" y1="150.4" x2="334.0" y2="167.9" stroke="#6468b0" stroke-width="3.6" opacity="0.4"/>
<line x1="334.0" y1="167.9" x2="322.6" y2="185.3" stroke="#b45cd0" stroke-width="3.0" opacity="0.42"/>
<circle cx="345.3" cy="150.4" r="16.5" fill="url(#gGhost)" opacity="0.62"/>
<line x1="372.5" y1="95.0" x2="322.6" y2="186.8" stroke="#b0aee8" stroke-width="1.3" opacity="0.7"/>
<line x1="322.6" y1="186.8" x2="421.6" y2="183.4" stroke="#9ea0e6" stroke-width="1.2" opacity="0.45"/>
<circle cx="322.6" cy="212.8" r="12.7" fill="url(#gIb)" opacity="0.32"/>
<circle cx="279.5" cy="116.3" r="12.7" fill="url(#gI)" />
<circle cx="373.0" cy="93.0" r="12.7" fill="url(#gI)" />
<circle cx="423.0" cy="183.0" r="12.7" fill="url(#gIb)" />
<circle cx="371.9" cy="273.9" r="12.7" fill="url(#gIb)" />
<line x1="401.6" y1="218.0" x2="420.0" y2="162.5" stroke="#50505a" stroke-width="3.2" />
<circle cx="401.6" cy="218.0" r="14.8" fill="url(#gPb)" />
<line x1="420.0" y1="162.5" x2="412.8" y2="186.2" stroke="#a01c80" stroke-width="3.2" />
<line x1="393.6" y1="230.0" x2="371.9" y2="246.3" stroke="#a01c80" stroke-width="3.2" />
<polygon points="322.6,185.3 371.9,246.3 371.9,273.9" fill="#686bb6" />
<polygon points="408.5,160.5 420.0,165.5 386.5,243.0 374.0,266.0 371.9,246.3 378.0,240.0" fill="#5d619f" />
<polygon points="322.6,185.3 409.0,160.3 378.5,240.0 371.9,246.3" fill="#7377cd" />
<circle cx="388.0" cy="207.0" r="11.0" fill="#676bb8" opacity="0.4"/>
<line x1="322.6" y1="185.3" x2="355.3" y2="196.2" stroke="#a060c8" stroke-width="3.2" opacity="0.5"/>
<line x1="355.3" y1="196.2" x2="388.0" y2="207.0" stroke="#6468b0" stroke-width="3.4" opacity="0.4"/>
<line x1="409.0" y1="160.3" x2="378.5" y2="240.0" stroke="#aeb0ea" stroke-width="1.2" opacity="0.6"/>
<circle cx="322.6" cy="185.3" r="12.7" fill="url(#gI)" />
<circle cx="422.0" cy="154.5" r="12.7" fill="url(#gIf)" />
<circle cx="371.9" cy="246.3" r="12.7" fill="url(#gIf)" />
<g stroke="#26264e" stroke-width="1.1" opacity="0.55" fill="none">
<path d="M155.3,139 V162.5 M155.3,207 V322 M155.3,294.2 H225 M589.6,204 V229"/>
</g>
<g stroke="#26264e" stroke-width="1.2" opacity="0.2" fill="none">
<path d="M277,294.2 H321.5 M589.6,45 V108 M589.6,134 V161"/>
</g>
</g>
<g transform="translate(3.4,855.5)" filter="url(#soft)">
<path d="M155.3,45.6 H589.6 M155.3,73.0 H589.6 M155.3,294.2 H589.6 M155.3,321.7 H589.6" stroke="#c4c4c4" stroke-width="1.45" fill="none"/>
<path d="M155.3,45.6 V321.7 M589.6,45.6 V321.7" stroke="#b8b8b8" stroke-width="1.25" fill="none"/>
<circle cx="204.3" cy="61.3" r="12.7" fill="url(#gI)" />
<circle cx="156.0" cy="150.6" r="12.7" fill="url(#gI)" />
<circle cx="588.9" cy="216.2" r="12.7" fill="url(#gI)" />
<circle cx="540.4" cy="305.4" r="12.7" fill="url(#gI)" />
<circle cx="446.0" cy="86.6" r="26.5" fill="url(#gCs)" />
<circle cx="229.4" cy="156.4" r="26.5" fill="url(#gCs)" />
<circle cx="515.3" cy="210.4" r="26.5" fill="url(#gCs)" />
<circle cx="299.1" cy="280.4" r="26.5" fill="url(#gCs)" />
<circle cx="589.7" cy="148.5" r="12.7" fill="url(#gIb)" />
<polygon points="496.5,126.1 589.7,122.2 588.2,145.0" fill="#6266a8" />
<polygon points="636.9,61.1 589.7,122.2 588.2,145.0" fill="#686bb6" />
<polygon points="636.9,61.1 595.7,125.2 588.2,145.0" fill="#5d619f" opacity="0.55"/>
<polygon points="539.3,31.7 496.5,126.1 589.7,122.2" fill="#8686e4" />
<polygon points="539.3,31.7 636.9,61.1 589.7,122.2" fill="#7a7dd3" />
<circle cx="540.3" cy="57.0" r="11.2" fill="#a050d0" opacity="0.2"/>
<circle cx="540.6" cy="57.5" r="3.4" fill="#c8a0f8" opacity="0.22"/>
<line x1="561.8" y1="90.8" x2="529.1" y2="108.4" stroke="#6468b0" stroke-width="3.6" opacity="0.4"/>
<line x1="529.1" y1="108.4" x2="496.5" y2="126.1" stroke="#b45cd0" stroke-width="3.0" opacity="0.42"/>
<line x1="561.8" y1="90.8" x2="600.1" y2="74.8" stroke="#6468b0" stroke-width="3.6" opacity="0.4"/>
<line x1="600.1" y1="74.8" x2="638.4" y2="58.9" stroke="#b45cd0" stroke-width="3.0" opacity="0.42"/>
<line x1="561.8" y1="90.8" x2="550.3" y2="60.1" stroke="#6468b0" stroke-width="3.6" opacity="0.4"/>
<line x1="550.3" y1="60.1" x2="538.8" y2="29.5" stroke="#b45cd0" stroke-width="3.0" opacity="0.42"/>
<line x1="561.8" y1="90.8" x2="575.8" y2="105.8" stroke="#6468b0" stroke-width="3.6" opacity="0.4"/>
<line x1="575.8" y1="105.8" x2="589.7" y2="120.7" stroke="#b45cd0" stroke-width="3.0" opacity="0.42"/>
<circle cx="561.8" cy="90.8" r="16.5" fill="url(#gGhost)" opacity="0.62"/>
<line x1="539.3" y1="31.7" x2="589.7" y2="122.2" stroke="#b0aee8" stroke-width="1.3" opacity="0.7"/>
<line x1="496.5" y1="126.1" x2="589.7" y2="122.2" stroke="#9ea0e6" stroke-width="1.2" opacity="0.5"/>
<circle cx="589.7" cy="148.5" r="12.7" fill="url(#gIb)" opacity="0.32"/>
<circle cx="538.8" cy="29.5" r="12.7" fill="url(#gI)" />
<circle cx="638.4" cy="58.9" r="12.7" fill="url(#gI)" />
<circle cx="496.5" cy="126.1" r="12.7" fill="url(#gI)" />
<circle cx="589.7" cy="120.7" r="12.7" fill="url(#gIf)" />
<circle cx="205.6" cy="338.0" r="12.7" fill="url(#gIb)" />
<polygon points="106.3,307.9 205.6,311.7 204.1,334.5" fill="#6266a8" />
<polygon points="247.2,242.7 205.6,311.7 204.1,334.5" fill="#686bb6" />
<polygon points="247.2,242.7 211.6,314.7 204.1,334.5" fill="#5d619f" opacity="0.55"/>
<polygon points="155.7,220.7 106.3,307.9 205.6,311.7" fill="#8686e4" />
<polygon points="155.7,220.7 247.2,242.7 205.6,311.7" fill="#7a7dd3" />
<circle cx="155.2" cy="246.5" r="11.2" fill="#a050d0" opacity="0.2"/>
<circle cx="155.5" cy="247.0" r="3.4" fill="#c8a0f8" opacity="0.22"/>
<line x1="183.0" y1="275.4" x2="144.7" y2="291.6" stroke="#6468b0" stroke-width="3.6" opacity="0.4"/>
<line x1="144.7" y1="291.6" x2="106.3" y2="307.9" stroke="#b45cd0" stroke-width="3.0" opacity="0.42"/>
<line x1="183.0" y1="275.4" x2="215.8" y2="257.9" stroke="#6468b0" stroke-width="3.6" opacity="0.4"/>
<line x1="215.8" y1="257.9" x2="248.7" y2="240.5" stroke="#b45cd0" stroke-width="3.0" opacity="0.42"/>
<line x1="183.0" y1="275.4" x2="169.1" y2="246.9" stroke="#6468b0" stroke-width="3.6" opacity="0.4"/>
<line x1="169.1" y1="246.9" x2="155.2" y2="218.5" stroke="#b45cd0" stroke-width="3.0" opacity="0.42"/>
<line x1="183.0" y1="275.4" x2="194.3" y2="292.8" stroke="#6468b0" stroke-width="3.6" opacity="0.4"/>
<line x1="194.3" y1="292.8" x2="205.6" y2="310.2" stroke="#b45cd0" stroke-width="3.0" opacity="0.42"/>
<circle cx="183.0" cy="275.4" r="16.5" fill="url(#gGhost)" opacity="0.62"/>
<line x1="155.7" y1="220.7" x2="205.6" y2="311.7" stroke="#b0aee8" stroke-width="1.3" opacity="0.7"/>
<line x1="106.3" y1="307.9" x2="205.6" y2="311.7" stroke="#9ea0e6" stroke-width="1.2" opacity="0.5"/>
<circle cx="205.6" cy="338.0" r="12.7" fill="url(#gIb)" opacity="0.32"/>
<circle cx="155.2" cy="218.5" r="12.7" fill="url(#gI)" />
<circle cx="248.7" cy="240.5" r="12.7" fill="url(#gI)" />
<circle cx="106.3" cy="307.9" r="12.7" fill="url(#gI)" />
<circle cx="205.6" cy="310.2" r="12.7" fill="url(#gIf)" />
<circle cx="322.6" cy="212.8" r="12.7" fill="url(#gIb)" />
<polygon points="280.0,117.3 322.6,186.8 325.1,211.8" fill="#686bb6" />
<polygon points="322.6,186.8 421.6,183.4 325.1,211.8" fill="#5d619f" />
<polygon points="280.0,117.3 372.5,95.0 322.6,186.8" fill="#7a7dd3" />
<polygon points="372.5,95.0 421.6,183.4 322.6,186.8" fill="#8686e4" />
<circle cx="370.5" cy="123.8" r="11.2" fill="#a050d0" opacity="0.2"/>
<circle cx="370.8" cy="124.3" r="3.4" fill="#c8a0f8" opacity="0.22"/>
<line x1="345.3" y1="150.4" x2="312.4" y2="133.3" stroke="#6468b0" stroke-width="3.6" opacity="0.4"/>
<line x1="312.4" y1="133.3" x2="279.5" y2="116.3" stroke="#b45cd0" stroke-width="3.0" opacity="0.42"/>
<line x1="345.3" y1="150.4" x2="383.5" y2="166.9" stroke="#6468b0" stroke-width="3.6" opacity="0.4"/>
<line x1="383.5" y1="166.9" x2="421.6" y2="183.4" stroke="#b45cd0" stroke-width="3.0" opacity="0.42"/>
<line x1="345.3" y1="150.4" x2="359.1" y2="121.7" stroke="#6468b0" stroke-width="3.6" opacity="0.4"/>
<line x1="359.1" y1="121.7" x2="373.0" y2="93.0" stroke="#b45cd0" stroke-width="3.0" opacity="0.42"/>
<line x1="345.3" y1="150.4" x2="334.0" y2="167.9" stroke="#6468b0" stroke-width="3.6" opacity="0.4"/>
<line x1="334.0" y1="167.9" x2="322.6" y2="185.3" stroke="#b45cd0" stroke-width="3.0" opacity="0.42"/>
<circle cx="345.3" cy="150.4" r="16.5" fill="url(#gGhost)" opacity="0.62"/>
<line x1="372.5" y1="95.0" x2="322.6" y2="186.8" stroke="#b0aee8" stroke-width="1.3" opacity="0.7"/>
<line x1="322.6" y1="186.8" x2="421.6" y2="183.4" stroke="#9ea0e6" stroke-width="1.2" opacity="0.45"/>
<circle cx="322.6" cy="212.8" r="12.7" fill="url(#gIb)" opacity="0.32"/>
<circle cx="279.5" cy="116.3" r="12.7" fill="url(#gI)" />
<circle cx="373.0" cy="93.0" r="12.7" fill="url(#gI)" />
<circle cx="421.6" cy="183.4" r="12.7" fill="url(#gI)" />
<circle cx="322.6" cy="185.3" r="12.7" fill="url(#gIf)" />
<g stroke="#26264e" stroke-width="1.1" opacity="0.55" fill="none">
<path d="M155.3,139 V162.5 M155.3,207 V322 M155.3,294.2 H225 M589.6,204 V229"/>
</g>
<g stroke="#26264e" stroke-width="1.2" opacity="0.2" fill="none">
<path d="M277,294.2 H321.5 M589.6,45 V108 M589.6,134 V161"/>
</g>
</g>
<g filter="url(#soft)">
<circle cx="33.7" cy="384.0" r="13.7" fill="url(#gGrey)" />
<rect x="29.6" y="306" width="9.6" height="48" fill="#ff0000"/>
<ellipse cx="34.3" cy="307.4" rx="14.4" ry="3.6" fill="#c80000"/>
<polygon points="34.3,268.8 48.8,307.8 19.8,307.8" fill="#f00000"/>
<rect x="46" y="378.7" width="69" height="9.8" fill="#0000ff"/>
<rect x="46" y="382.6" width="69" height="1.6" fill="#3a3aff"/>
<polygon points="152.4,383.7 113.6,369.4 113.6,397.8" fill="#0000f0"/>
<circle cx="35.8" cy="364.6" r="14.7" fill="url(#gGreen)" />
<text class="sans" x="35.4" y="250.2" font-size="19" text-anchor="middle">a</text>
<text class="sans" x="38.4" y="355.6" font-size="19" text-anchor="middle">b</text>
<text class="sans" x="178.2" y="389.6" font-size="19" text-anchor="middle">c</text>
</g>
<text x="29.2" y="98" font-size="76">(a)</text>
<text x="660.2" y="97.3" font-size="76">(b)</text>
<text x="29.2" y="532.8" font-size="76">(c)</text>
<text x="660.2" y="532.2" font-size="76">(d)</text>
<text x="29.2" y="945" font-size="76">(e)</text>
<text x="1237" y="240" font-size="75">(f)</text>
<text x="281" y="431" font-size="57.5">δ-CsPbI<tspan font-size="41" dy="14" dx="1">3</tspan></text>
<text x="949.5" y="431.5" font-size="60">V<tspan font-size="41" dy="13" dx="-1.5">Cs</tspan></text>
<text x="344.5" y="857.3" font-size="60">V<tspan font-size="41" dy="12.8" dx="-1.5">I</tspan></text>
<text x="944" y="857.3" font-size="60">V<tspan font-size="41" dy="12.8" dx="-1.5">CsI</tspan></text>
<text x="326" y="1274.8" font-size="60">V<tspan font-size="60" dy="19.5" dx="-2">PbI</tspan><tspan font-size="40" dy="12.5">2</tspan></text>
<g filter="url(#soft)">
<circle cx="932.9" cy="954.1" r="33.2" fill="url(#gLCs)" />
<circle cx="932.9" cy="954.1" r="33.2" fill="url(#gShade)" />
<circle cx="932.5" cy="1038.1" r="19.2" fill="url(#gLPb)" />
<circle cx="932.5" cy="1038.1" r="19.2" fill="url(#gShade)" />
<circle cx="932.5" cy="1112.7" r="16.5" fill="url(#gLI)" />
<circle cx="932.5" cy="1112.7" r="16.5" fill="url(#gShade)" />
</g>
<text x="998" y="971.5" font-size="60">Cs</text>
<text x="999" y="1056.2" font-size="60">Pb</text>
<text x="1012" y="1125.1" font-size="60">I</text>
<clipPath id="clipc"><rect x="1435.3" y="211.2" width="926.1000000000001" height="744.7"/></clipPath>
<g clip-path="url(#clipc)" fill="none" stroke-linejoin="round">
<path d="M1435.3,496.8 L1437.6,503.8 L1439.9,511.2 L1442.3,518.9 L1444.6,526.9 L1446.9,535.1 L1449.2,543.5 L1451.6,551.9 L1453.9,560.4 L1456.2,568.7 L1458.5,576.9 L1460.8,584.9 L1463.2,592.6 L1465.5,600.0 L1467.8,607.0 L1470.1,613.6 L1472.5,619.7 L1474.8,625.5 L1477.1,630.8 L1479.4,635.8 L1481.8,640.5 L1484.1,644.8 L1486.4,648.9 L1488.7,652.7 L1491.0,656.4 L1493.4,659.7 L1495.7,663.0 L1498.0,666.0 L1500.3,668.8 L1502.7,671.5 L1505.0,674.1 L1507.3,676.5 L1509.6,678.9 L1511.9,681.1 L1514.3,683.2 L1516.6,685.1 L1518.9,687.0 L1521.2,688.7 L1523.6,690.3 L1525.9,691.7 L1528.2,693.0 L1530.5,694.2 L1532.8,695.2 L1535.2,696.1 L1537.5,696.9 L1539.8,697.6 L1542.1,698.3 L1544.5,698.8 L1546.8,699.3 L1549.1,699.9 L1551.4,700.4 L1553.8,700.9 L1556.1,701.6 L1558.4,702.3 L1560.7,703.0 L1563.0,703.8 L1565.4,704.5 L1567.7,705.3 L1570.0,706.1 L1572.3,707.0 L1574.7,708.0 L1577.0,709.1 L1579.3,710.3 L1581.6,711.7 L1583.9,713.3 L1586.3,715.0 L1588.6,716.9 L1590.9,719.0 L1593.2,721.1 L1595.6,723.5 L1597.9,726.0 L1600.2,728.6 L1602.5,731.3 L1604.8,734.2 L1607.2,737.3 L1609.5,740.5 L1611.8,743.8 L1614.1,747.3 L1616.5,751.0 L1618.8,754.8 L1621.1,758.8 L1623.4,762.8 L1625.7,767.0 L1628.1,771.1 L1630.4,775.3 L1632.7,779.4 L1635.0,783.5 L1637.4,787.5 L1639.7,791.3 L1642.0,795.1 L1644.3,798.8 L1646.7,802.4 L1649.0,805.9 L1651.3,809.3 L1653.6,812.7 L1655.9,815.9 L1658.3,819.1 L1660.6,822.2 L1662.9,825.1 L1665.2,827.9 L1667.6,830.7 L1669.9,833.3 L1672.2,835.8 L1674.5,838.3 L1676.8,840.7 L1679.2,843.0 L1681.5,845.2 L1683.8,847.3 L1686.1,849.4 L1688.5,851.4 L1690.8,853.4 L1693.1,855.3 L1695.4,857.1 L1697.7,858.8 L1700.1,860.5 L1702.4,862.2 L1704.7,863.8 L1707.0,865.4 L1709.4,866.9 L1711.7,868.4 L1714.0,869.9 L1716.3,871.3 L1718.7,872.7 L1721.0,874.0 L1723.3,875.4 L1725.6,876.6 L1727.9,877.9 L1730.3,879.0 L1732.6,880.2 L1734.9,881.3 L1737.2,882.4 L1739.6,883.4 L1741.9,884.4 L1744.2,885.4 L1746.5,886.3 L1748.8,887.3 L1751.2,888.1 L1753.5,889.0 L1755.8,889.9 L1758.1,890.7 L1760.5,891.5 L1762.8,892.3 L1765.1,893.1 L1767.4,893.9 L1769.7,894.6 L1772.1,895.3 L1774.4,896.1 L1776.7,896.8 L1779.0,897.5 L1781.4,898.2 L1783.7,898.9 L1786.0,899.6 L1788.3,900.2 L1790.7,900.9 L1793.0,901.6 L1795.3,902.2 L1797.6,902.9 L1799.9,903.6 L1802.3,904.2 L1804.6,904.9 L1806.9,905.5 L1809.2,906.1 L1811.6,906.8 L1813.9,907.4 L1816.2,908.0 L1818.5,908.7 L1820.8,909.3 L1823.2,909.9 L1825.5,910.5 L1827.8,911.1 L1830.1,911.7 L1832.5,912.3 L1834.8,912.8 L1837.1,913.4 L1839.4,914.0 L1841.7,914.5 L1844.1,915.0 L1846.4,915.6 L1848.7,916.1 L1851.0,916.6 L1853.4,917.1 L1855.7,917.5 L1858.0,918.0 L1860.3,918.5 L1862.7,918.9 L1865.0,919.4 L1867.3,919.8 L1869.6,920.2 L1871.9,920.6 L1874.3,921.0 L1876.6,921.4 L1878.9,921.8 L1881.2,922.2 L1883.6,922.5 L1885.9,922.9 L1888.2,923.2 L1890.5,923.5 L1892.8,923.9 L1895.2,924.2 L1897.5,924.5 L1899.8,924.8 L1902.1,925.1 L1904.5,925.4 L1906.8,925.7 L1909.1,926.0 L1911.4,926.2 L1913.7,926.5 L1916.1,926.8 L1918.4,927.0 L1920.7,927.3 L1923.0,927.5 L1925.4,927.8 L1927.7,928.0 L1930.0,928.3 L1932.3,928.5 L1934.6,928.8 L1937.0,929.0 L1939.3,929.2 L1941.6,929.5 L1943.9,929.7 L1946.3,929.9 L1948.6,930.1 L1950.9,930.3 L1953.2,930.5 L1955.6,930.7 L1957.9,931.0 L1960.2,931.2 L1962.5,931.4 L1964.8,931.5 L1967.2,931.7 L1969.5,931.9 L1971.8,932.1 L1974.1,932.3 L1976.5,932.5 L1978.8,932.7 L1981.1,932.9 L1983.4,933.0 L1985.7,933.2 L1988.1,933.4 L1990.4,933.6 L1992.7,933.7 L1995.0,933.9 L1997.4,934.1 L1999.7,934.3 L2002.0,934.4 L2004.3,934.6 L2006.6,934.8 L2009.0,935.0 L2011.3,935.1 L2013.6,935.3 L2015.9,935.5 L2018.3,935.7 L2020.6,935.8 L2022.9,936.0 L2025.2,936.2 L2027.6,936.4 L2029.9,936.5 L2032.2,936.7 L2034.5,936.9 L2036.8,937.0 L2039.2,937.2 L2041.5,937.4 L2043.8,937.6 L2046.1,937.7 L2048.5,937.9 L2050.8,938.1 L2053.1,938.2 L2055.4,938.4 L2057.7,938.6 L2060.1,938.7 L2062.4,938.9 L2064.7,939.1 L2067.0,939.2 L2069.4,939.4 L2071.7,939.5 L2074.0,939.7 L2076.3,939.9 L2078.6,940.0 L2081.0,940.2 L2083.3,940.3 L2085.6,940.5 L2087.9,940.6 L2090.3,940.8 L2092.6,940.9 L2094.9,941.1 L2097.2,941.2 L2099.6,941.3 L2101.9,941.5 L2104.2,941.6 L2106.5,941.8 L2108.8,941.9 L2111.2,942.0 L2113.5,942.2 L2115.8,942.3 L2118.1,942.4 L2120.5,942.6 L2122.8,942.7 L2125.1,942.8 L2127.4,942.9 L2129.7,943.1 L2132.1,943.2 L2134.4,943.3 L2136.7,943.4 L2139.0,943.6 L2141.4,943.7 L2143.7,943.8 L2146.0,943.9 L2148.3,944.1 L2150.6,944.2 L2153.0,944.3 L2155.3,944.4 L2157.6,944.5 L2159.9,944.7 L2162.3,944.8 L2164.6,944.9 L2166.9,945.0 L2169.2,945.2 L2171.6,945.3 L2173.9,945.4 L2176.2,945.5 L2178.5,945.7 L2180.8,945.8 L2183.2,945.9 L2185.5,946.1 L2187.8,946.2 L2190.1,946.3 L2192.5,946.5 L2194.8,946.6 L2197.1,946.7 L2199.4,946.9 L2201.7,947.0 L2204.1,947.2 L2206.4,947.3 L2208.7,947.5 L2211.0,947.7 L2213.4,947.8 L2215.7,948.0 L2218.0,948.1 L2220.3,948.3 L2222.6,948.5 L2225.0,948.6 L2227.3,948.8 L2229.6,948.9 L2231.9,949.1 L2234.3,949.2 L2236.6,949.4 L2238.9,949.5 L2241.2,949.6 L2243.5,949.8 L2245.9,949.9 L2248.2,950.0 L2250.5,950.2 L2252.8,950.3 L2255.2,950.4 L2257.5,950.5 L2259.8,950.6 L2262.1,950.8 L2264.5,950.9 L2266.8,951.0 L2269.1,951.1 L2271.4,951.2 L2273.7,951.3 L2276.1,951.4 L2278.4,951.5 L2280.7,951.6 L2283.0,951.7 L2285.4,951.8 L2287.7,951.9 L2290.0,952.0 L2292.3,952.0 L2294.6,952.1 L2297.0,952.2 L2299.3,952.3 L2301.6,952.4 L2303.9,952.5 L2306.3,952.6 L2308.6,952.6 L2310.9,952.7 L2313.2,952.8 L2315.5,952.9 L2317.9,953.0 L2320.2,953.0 L2322.5,953.1 L2324.8,953.2 L2327.2,953.3 L2329.5,953.4 L2331.8,953.4 L2334.1,953.5 L2336.5,953.6 L2338.8,953.7 L2341.1,953.8 L2343.4,953.8 L2345.7,953.9 L2348.1,954.0 L2350.4,954.1 L2352.7,954.2 L2355.0,954.2 L2357.4,954.3 L2359.7,954.4 L2362.0,954.5" stroke="#000000" stroke-width="5.4"/>
<path d="M1435.3,500.0 L1437.3,506.1 L1439.4,511.9 L1441.4,517.3 L1443.4,522.5 L1445.5,527.3 L1447.5,532.0 L1449.5,536.4 L1451.6,540.6 L1453.6,544.7 L1455.6,548.7 L1457.7,552.5 L1459.7,556.3 L1461.7,560.1 L1463.7,563.9 L1465.8,567.6 L1467.8,571.4 L1469.8,575.2 L1471.9,579.1 L1473.9,583.0 L1475.9,587.0 L1478.0,591.0 L1480.0,594.9 L1482.0,598.8 L1484.1,602.7 L1486.1,606.4 L1488.1,610.1 L1490.2,613.7 L1492.2,617.1 L1494.2,620.3 L1496.3,623.4 L1498.3,626.4 L1500.3,629.2 L1502.4,631.9 L1504.4,634.5 L1506.4,637.1 L1508.4,639.6 L1510.5,642.1 L1512.5,644.7 L1514.5,647.2 L1516.6,649.8 L1518.6,652.3 L1520.6,654.9 L1522.7,657.4 L1524.7,660.0 L1526.7,662.5 L1528.8,665.1 L1530.8,667.6 L1532.8,670.2 L1534.9,672.7 L1536.9,675.2 L1538.9,677.8 L1541.0,680.4 L1543.0,683.0 L1545.0,685.6 L1547.1,688.2 L1549.1,690.9 L1551.1,693.6 L1553.1,696.4 L1555.2,699.3 L1557.2,702.3 L1559.2,705.4 L1561.3,708.5 L1563.3,711.7 L1565.3,715.0 L1567.4,718.3 L1569.4,721.6 L1571.4,725.0 L1573.5,728.4 L1575.5,731.8 L1577.5,735.2 L1579.6,738.7 L1581.6,742.1 L1583.6,745.5 L1585.7,749.0 L1587.7,752.4 L1589.7,755.8 L1591.8,759.3 L1593.8,762.7 L1595.8,766.1 L1597.8,769.6 L1599.9,773.0 L1601.9,776.4 L1603.9,779.8 L1606.0,783.1 L1608.0,786.4 L1610.0,789.7 L1612.1,792.9 L1614.1,796.1 L1616.1,799.2 L1618.2,802.2 L1620.2,805.2 L1622.2,808.1 L1624.3,811.0 L1626.3,813.7 L1628.3,816.4 L1630.4,819.0 L1632.4,821.6 L1634.4,824.0 L1636.5,826.4 L1638.5,828.7 L1640.5,831.0 L1642.5,833.1 L1644.6,835.2 L1646.6,837.3 L1648.6,839.2 L1650.7,841.1 L1652.7,843.0 L1654.7,844.8 L1656.8,846.5 L1658.8,848.2 L1660.8,849.8 L1662.9,851.4 L1664.9,853.0 L1666.9,854.5 L1669.0,856.0 L1671.0,857.4 L1673.0,858.8 L1675.1,860.2 L1677.1,861.5 L1679.1,862.9 L1681.2,864.2 L1683.2,865.5 L1685.2,866.7 L1687.2,868.0 L1689.3,869.2 L1691.3,870.4 L1693.3,871.7 L1695.4,872.9 L1697.4,874.1 L1699.4,875.2 L1701.5,876.4 L1703.5,877.5 L1705.5,878.6 L1707.6,879.6 L1709.6,880.6 L1711.6,881.5 L1713.7,882.4 L1715.7,883.1 L1717.7,883.8 L1719.8,884.4 L1721.8,884.9 L1723.8,885.3 L1725.9,885.6 L1727.9,885.8 L1729.9,885.9 L1731.9,885.9 L1734.0,885.8 L1736.0,885.5 L1738.0,885.2 L1740.1,884.9 L1742.1,884.4 L1744.1,883.9 L1746.2,883.4 L1748.2,882.9 L1750.2,882.3 L1752.3,881.7 L1754.3,881.1 L1756.3,880.5 L1758.4,879.9 L1760.4,879.3 L1762.4,878.8 L1764.5,878.2 L1766.5,877.7 L1768.5,877.2 L1770.6,876.7 L1772.6,876.2 L1774.6,875.8 L1776.6,875.3 L1778.7,874.9 L1780.7,874.5 L1782.7,874.1 L1784.8,873.7 L1786.8,873.3 L1788.8,872.9 L1790.9,872.5 L1792.9,872.1 L1794.9,871.7 L1797.0,871.3 L1799.0,870.9 L1801.0,870.5 L1803.1,870.2 L1805.1,869.8 L1807.1,869.4 L1809.2,869.1 L1811.2,868.7 L1813.2,868.4 L1815.3,868.1 L1817.3,867.8 L1819.3,867.5 L1821.3,867.2 L1823.4,866.9 L1825.4,866.6 L1827.4,866.3 L1829.5,866.0 L1831.5,865.7 L1833.5,865.5 L1835.6,865.2 L1837.6,865.0 L1839.6,864.7 L1841.7,864.5 L1843.7,864.2 L1845.7,864.0 L1847.8,863.8 L1849.8,863.6 L1851.8,863.3 L1853.9,863.1 L1855.9,862.9 L1857.9,862.7 L1860.0,862.5 L1862.0,862.3 L1864.0,862.1 L1866.0,861.9 L1868.1,861.8 L1870.1,861.6 L1872.1,861.4 L1874.2,861.2 L1876.2,861.1 L1878.2,860.9 L1880.3,860.7 L1882.3,860.6 L1884.3,860.4 L1886.4,860.3 L1888.4,860.1 L1890.4,859.9 L1892.5,859.8 L1894.5,859.6 L1896.5,859.5 L1898.6,859.3 L1900.6,859.1 L1902.6,859.0 L1904.7,858.8 L1906.7,858.6 L1908.7,858.4 L1910.7,858.3 L1912.8,858.1 L1914.8,857.9 L1916.8,857.7 L1918.9,857.5 L1920.9,857.3 L1922.9,857.1 L1925.0,856.9 L1927.0,856.6 L1929.0,856.4 L1931.1,856.1 L1933.1,855.9 L1935.1,855.6 L1937.2,855.3 L1939.2,855.0 L1941.2,854.7 L1943.3,854.4 L1945.3,854.0 L1947.3,853.7 L1949.4,853.3 L1951.4,853.0 L1953.4,852.6 L1955.4,852.2 L1957.5,851.8 L1959.5,851.4 L1961.5,851.0 L1963.6,850.6 L1965.6,850.2 L1967.6,849.7 L1969.7,849.3 L1971.7,848.9 L1973.7,848.4 L1975.8,848.0 L1977.8,847.5 L1979.8,847.1 L1981.9,846.6 L1983.9,846.1 L1985.9,845.6 L1988.0,845.1 L1990.0,844.6 L1992.0,844.1 L1994.1,843.5 L1996.1,843.0 L1998.1,842.5 L2000.1,841.9 L2002.2,841.4 L2004.2,840.8 L2006.2,840.3 L2008.3,839.7 L2010.3,839.2 L2012.3,838.7 L2014.4,838.2 L2016.4,837.7 L2018.4,837.2 L2020.5,836.7 L2022.5,836.2 L2024.5,835.7 L2026.6,835.3 L2028.6,834.9 L2030.6,834.5 L2032.7,834.1 L2034.7,833.7 L2036.7,833.4 L2038.8,833.1 L2040.8,832.8 L2042.8,832.5 L2044.8,832.3 L2046.9,832.0 L2048.9,831.8 L2050.9,831.6 L2053.0,831.4 L2055.0,831.2 L2057.0,831.0 L2059.1,830.9 L2061.1,830.7 L2063.1,830.6 L2065.2,830.5 L2067.2,830.4 L2069.2,830.3 L2071.3,830.2 L2073.3,830.1 L2075.3,830.0 L2077.4,830.0 L2079.4,829.9 L2081.4,829.9 L2083.5,829.9 L2085.5,829.9 L2087.5,829.9 L2089.5,829.9 L2091.6,829.9 L2093.6,829.9 L2095.6,830.0 L2097.7,830.0 L2099.7,830.0 L2101.7,830.1 L2103.8,830.2 L2105.8,830.2 L2107.8,830.3 L2109.9,830.4 L2111.9,830.5 L2113.9,830.6 L2116.0,830.7 L2118.0,830.8 L2120.0,830.9 L2122.1,831.1 L2124.1,831.2 L2126.1,831.4 L2128.2,831.5 L2130.2,831.7 L2132.2,831.9 L2134.2,832.1 L2136.3,832.3 L2138.3,832.5 L2140.3,832.8 L2142.4,833.0 L2144.4,833.3 L2146.4,833.6 L2148.5,833.9 L2150.5,834.2 L2152.5,834.5 L2154.6,834.8 L2156.6,835.2 L2158.6,835.6 L2160.7,836.0 L2162.7,836.4 L2164.7,836.8 L2166.8,837.2 L2168.8,837.6 L2170.8,838.1 L2172.9,838.6 L2174.9,839.1 L2176.9,839.6 L2178.9,840.1 L2181.0,840.6 L2183.0,841.1 L2185.0,841.7 L2187.1,842.2 L2189.1,842.8 L2191.1,843.3 L2193.2,843.9 L2195.2,844.5 L2197.2,845.1 L2199.3,845.7 L2201.3,846.3 L2203.3,846.9 L2205.4,847.5 L2207.4,848.1 L2209.4,848.7 L2211.5,849.2 L2213.5,849.8 L2215.5,850.4 L2217.6,851.0 L2219.6,851.5 L2221.6,852.1 L2223.6,852.6 L2225.7,853.1 L2227.7,853.6 L2229.7,854.1 L2231.8,854.5 L2233.8,854.9 L2235.8,855.3 L2237.9,855.6 L2239.9,855.9 L2241.9,856.2 L2244.0,856.4 L2246.0,856.6 L2246.0,856.6 L2248.0,855.7 L2249.9,854.6 L2251.9,853.4 L2253.9,852.2 L2255.8,850.8 L2257.8,849.4 L2259.8,847.9 L2261.7,846.2 L2263.7,844.4 L2265.7,842.5 L2267.6,840.7 L2269.6,839.1 L2271.6,837.6 L2273.5,836.2 L2275.5,834.8 L2277.5,833.4 L2279.4,832.1 L2281.4,830.8 L2283.4,829.5 L2285.3,828.3 L2287.3,827.1 L2289.3,826.0 L2291.2,825.0 L2293.2,824.0 L2295.2,823.1 L2297.1,822.2 L2299.1,821.4 L2301.1,820.5 L2303.0,819.7 L2305.0,818.9 L2306.9,818.1 L2308.9,817.3 L2310.9,816.6 L2312.8,815.9 L2314.8,815.2 L2316.8,814.6 L2318.7,814.0 L2320.7,813.4 L2322.7,812.9 L2324.6,812.3 L2326.6,811.8 L2328.6,811.3 L2330.5,810.9 L2332.5,810.4 L2334.5,810.0 L2336.4,809.7 L2338.4,809.4 L2340.4,809.1 L2342.3,808.8 L2344.3,808.5 L2346.3,808.3 L2348.2,808.1 L2350.2,807.9 L2352.2,807.7 L2354.1,807.5 L2356.1,807.3 L2358.1,807.1 L2360.0,806.9 L2362.0,806.8" stroke="#f0620a" stroke-width="5.3" stroke-dasharray="9.2 15.75" stroke-linecap="round"/>
<path d="M1435.3,349.5 L1437.6,352.1 L1439.9,354.5 L1442.3,356.9 L1444.6,359.2 L1446.9,361.4 L1449.2,363.5 L1451.6,365.6 L1453.9,367.6 L1456.2,369.6 L1458.5,371.6 L1460.8,373.5 L1463.2,375.5 L1465.5,377.5 L1467.8,379.6 L1470.1,381.9 L1472.5,384.5 L1474.8,387.2 L1477.1,390.4 L1479.4,393.8 L1481.8,397.5 L1484.1,401.6 L1486.4,405.9 L1488.7,410.5 L1491.0,415.4 L1493.4,420.6 L1495.7,426.2 L1498.0,432.3 L1500.3,439.0 L1502.7,446.1 L1505.0,453.7 L1507.3,461.6 L1509.6,469.9 L1511.9,478.8 L1514.3,488.2 L1516.6,498.1 L1518.9,508.1 L1521.2,518.1 L1523.6,527.8 L1525.9,536.9 L1528.2,545.1 L1530.5,552.1 L1532.8,557.8 L1535.2,562.2 L1537.5,565.7 L1539.8,568.4 L1542.1,570.7 L1544.5,572.8 L1546.8,574.9 L1549.1,576.9 L1551.4,578.9 L1553.8,580.8 L1556.1,582.7 L1558.4,584.5 L1560.7,586.1 L1563.0,587.6 L1565.4,589.0 L1567.7,590.3 L1570.0,591.4 L1572.3,592.5 L1574.7,593.4 L1577.0,594.3 L1579.3,595.1 L1581.6,595.8 L1583.9,596.4 L1586.3,597.1 L1588.6,597.6 L1590.9,598.2 L1593.2,598.7 L1595.6,599.1 L1597.9,599.5 L1600.2,599.8 L1602.5,600.1 L1604.8,600.2 L1607.2,600.3 L1609.5,600.3 L1611.8,600.1 L1614.1,599.9 L1616.5,599.7 L1618.8,599.3 L1621.1,599.0 L1623.4,598.6 L1625.7,598.2 L1628.1,597.8 L1630.4,597.4 L1632.7,597.0 L1635.0,596.7 L1637.4,596.5 L1639.7,596.3 L1642.0,596.2 L1644.3,596.1 L1646.7,596.2 L1649.0,596.4 L1651.3,596.7 L1653.6,597.2 L1655.9,597.8 L1658.3,598.5 L1660.6,599.5 L1662.9,600.6 L1665.2,602.0 L1667.6,603.4 L1669.9,605.1 L1672.2,606.9 L1674.5,608.8 L1676.8,610.9 L1679.2,613.1 L1681.5,615.5 L1683.8,617.9 L1686.1,620.4 L1688.5,623.1 L1690.8,625.8 L1693.1,628.5 L1695.4,631.3 L1697.7,634.1 L1700.1,637.0 L1702.4,639.8 L1704.7,642.7 L1707.0,645.6 L1709.4,648.5 L1711.7,651.4 L1714.0,654.3 L1716.3,657.2 L1718.7,660.1 L1721.0,663.0 L1723.3,665.8 L1725.6,668.7 L1727.9,671.4 L1730.3,674.2 L1732.6,676.8 L1734.9,679.5 L1737.2,682.0 L1739.6,684.6 L1741.9,687.1 L1744.2,689.5 L1746.5,691.9 L1748.8,694.3 L1751.2,696.5 L1753.5,698.8 L1755.8,701.0 L1758.1,703.1 L1760.5,705.1 L1762.8,707.1 L1765.1,708.9 L1767.4,710.7 L1769.7,712.5 L1772.1,714.1 L1774.4,715.7 L1776.7,717.3 L1779.0,718.8 L1781.4,720.3 L1783.7,721.7 L1786.0,723.1 L1788.3,724.4 L1790.7,725.8 L1793.0,727.1 L1795.3,728.3 L1797.6,729.5 L1799.9,730.7 L1802.3,731.9 L1804.6,733.0 L1806.9,734.1 L1809.2,735.1 L1811.6,736.1 L1813.9,737.1 L1816.2,738.1 L1818.5,739.1 L1820.8,740.0 L1823.2,740.9 L1825.5,741.8 L1827.8,742.6 L1830.1,743.5 L1832.5,744.3 L1834.8,745.1 L1837.1,745.9 L1839.4,746.7 L1841.7,747.5 L1844.1,748.2 L1846.4,748.9 L1848.7,749.6 L1851.0,750.2 L1853.4,750.9 L1855.7,751.5 L1858.0,752.0 L1860.3,752.5 L1862.7,753.0 L1865.0,753.5 L1867.3,753.9 L1869.6,754.3 L1871.9,754.6 L1874.3,755.0 L1876.6,755.2 L1878.9,755.5 L1881.2,755.7 L1883.6,755.9 L1885.9,756.1 L1888.2,756.3 L1890.5,756.4 L1892.8,756.6 L1895.2,756.8 L1897.5,756.9 L1899.8,757.1 L1902.1,757.3 L1904.5,757.6 L1906.8,757.8 L1909.1,758.1 L1911.4,758.4 L1913.7,758.7 L1916.1,759.1 L1918.4,759.5 L1920.7,759.9 L1923.0,760.4 L1925.4,760.9 L1927.7,761.5 L1930.0,762.1 L1932.3,762.7 L1934.6,763.4 L1937.0,764.1 L1939.3,764.8 L1941.6,765.6 L1943.9,766.4 L1946.3,767.3 L1948.6,768.2 L1950.9,769.2 L1953.2,770.2 L1955.6,771.2 L1957.9,772.3 L1960.2,773.3 L1962.5,774.4 L1964.8,775.5 L1967.2,776.6 L1969.5,777.7 L1971.8,778.8 L1974.1,780.0 L1976.5,781.1 L1978.8,782.1 L1981.1,783.2 L1983.4,784.3 L1985.7,785.4 L1988.1,786.5 L1990.4,787.5 L1992.7,788.6 L1995.0,789.7 L1997.4,790.7 L1999.7,791.8 L2002.0,792.8 L2004.3,793.9 L2006.6,794.9 L2009.0,796.0 L2011.3,797.0 L2013.6,798.0 L2015.9,799.0 L2018.3,800.0 L2020.6,801.1 L2022.9,802.1 L2025.2,803.0 L2027.6,804.0 L2029.9,805.0 L2032.2,806.0 L2034.5,806.9 L2036.8,807.9 L2039.2,808.8 L2041.5,809.7 L2043.8,810.6 L2046.1,811.5 L2048.5,812.4 L2050.8,813.3 L2053.1,814.2 L2055.4,815.0 L2057.7,815.9 L2060.1,816.7 L2062.4,817.6 L2064.7,818.4 L2067.0,819.2 L2069.4,820.1 L2071.7,820.9 L2074.0,821.7 L2076.3,822.6 L2078.6,823.4 L2081.0,824.3 L2083.3,825.1 L2085.6,826.0 L2087.9,826.9 L2090.3,827.8 L2092.6,828.7 L2094.9,829.7 L2097.2,830.6 L2099.6,831.6 L2101.9,832.5 L2104.2,833.5 L2106.5,834.5 L2108.8,835.5 L2111.2,836.6 L2113.5,837.6 L2115.8,838.7 L2118.1,839.7 L2120.5,840.8 L2122.8,841.9 L2125.1,843.0 L2127.4,844.2 L2129.7,845.3 L2132.1,846.5 L2134.4,847.6 L2136.7,848.8 L2139.0,850.0 L2141.4,851.2 L2143.7,852.4 L2146.0,853.7 L2148.3,854.9 L2150.6,856.1 L2153.0,857.3 L2155.3,858.5 L2157.6,859.7 L2159.9,861.0 L2162.3,862.2 L2164.6,863.4 L2166.9,864.6 L2169.2,865.9 L2171.6,867.1 L2173.9,868.4 L2176.2,869.6 L2178.5,870.9 L2180.8,872.2 L2183.2,873.5 L2185.5,874.8 L2187.8,876.0 L2190.1,877.3 L2192.5,878.6 L2194.8,879.8 L2197.1,881.0 L2199.4,882.2 L2201.7,883.3 L2204.1,884.4 L2206.4,885.5 L2208.7,886.5 L2211.0,887.5 L2213.4,888.4 L2215.7,889.4 L2218.0,890.3 L2220.3,891.2 L2222.6,892.0 L2225.0,892.8 L2227.3,893.6 L2229.6,894.4 L2231.9,895.1 L2234.3,895.8 L2236.6,896.4 L2238.9,897.1 L2241.2,897.7 L2243.5,898.2 L2245.9,898.7 L2248.2,899.2 L2250.5,899.7 L2252.8,900.1 L2255.2,900.5 L2257.5,900.9 L2259.8,901.2 L2262.1,901.6 L2264.5,901.9 L2266.8,902.1 L2269.1,902.4 L2271.4,902.6 L2273.7,902.8 L2276.1,903.0 L2278.4,903.2 L2280.7,903.4 L2283.0,903.5 L2285.4,903.6 L2287.7,903.7 L2290.0,903.8 L2292.3,903.9 L2294.6,903.9 L2297.0,904.0 L2299.3,904.0 L2301.6,904.0 L2303.9,903.9 L2306.3,903.9 L2308.6,903.8 L2310.9,903.7 L2313.2,903.6 L2315.5,903.5 L2317.9,903.3 L2320.2,903.2 L2322.5,903.0 L2324.8,902.7 L2327.2,902.5 L2329.5,902.3 L2331.8,902.0 L2334.1,901.7 L2336.5,901.4 L2338.8,901.1 L2341.1,900.8 L2343.4,900.5 L2345.7,900.2 L2348.1,899.8 L2350.4,899.5 L2352.7,899.1 L2355.0,898.8 L2357.4,898.4 L2359.7,898.1 L2362.0,897.7" stroke="#7570b3" stroke-width="5.3" stroke-dasharray="9.2 15.65" stroke-linecap="round" stroke-dashoffset="-3"/>
<path d="M1435.3,217.6 L1437.6,232.3 L1439.9,244.8 L1442.3,255.8 L1444.6,265.9 L1446.9,275.7 L1449.2,285.3 L1451.6,294.7 L1453.9,303.8 L1456.2,312.8 L1458.5,321.8 L1460.8,330.9 L1463.2,339.8 L1465.5,348.4 L1467.8,356.4 L1470.1,364.0 L1472.5,371.3 L1474.8,378.4 L1477.1,385.4 L1479.4,392.2 L1481.8,398.9 L1484.1,405.5 L1486.4,412.0 L1488.7,418.4 L1491.0,424.6 L1493.4,430.7 L1495.7,436.5 L1498.0,442.2 L1500.3,447.8 L1502.7,453.4 L1505.0,459.0 L1507.3,464.7 L1509.6,470.5 L1511.9,476.4 L1514.3,482.3 L1516.6,488.3 L1518.9,494.2 L1521.2,500.1 L1523.6,505.9 L1525.9,511.5 L1528.2,517.1 L1530.5,522.5 L1532.8,528.0 L1535.2,533.4 L1537.5,538.9 L1539.8,544.5 L1542.1,550.0 L1544.5,555.5 L1546.8,560.9 L1549.1,566.3 L1551.4,571.6 L1553.8,577.0 L1556.1,582.2 L1558.4,587.5 L1560.7,592.6 L1563.0,597.6 L1565.4,602.4 L1567.7,607.1 L1570.0,611.7 L1572.3,616.2 L1574.7,620.7 L1577.0,625.1 L1579.3,629.6 L1581.6,634.0 L1583.9,638.4 L1586.3,642.8 L1588.6,647.1 L1590.9,651.3 L1593.2,655.4 L1595.6,659.4 L1597.9,663.3 L1600.2,667.0 L1602.5,670.5 L1604.8,673.9 L1607.2,677.1 L1609.5,680.1 L1611.8,683.0 L1614.1,685.8 L1616.5,688.5 L1618.8,691.0 L1621.1,693.4 L1623.4,695.8 L1625.7,698.1 L1628.1,700.4 L1630.4,702.7 L1632.7,705.0 L1635.0,707.3 L1637.4,709.5 L1639.7,711.8 L1642.0,714.0 L1644.3,716.1 L1646.7,718.3 L1649.0,720.4 L1651.3,722.4 L1653.6,724.5 L1655.9,726.5 L1658.3,728.4 L1660.6,730.4 L1662.9,732.3 L1665.2,734.2 L1667.6,736.0 L1669.9,737.8 L1672.2,739.6 L1674.5,741.4 L1676.8,743.2 L1679.2,744.9 L1681.5,746.6 L1683.8,748.3 L1686.1,750.0 L1688.5,751.7 L1690.8,753.3 L1693.1,755.0 L1695.4,756.6 L1697.7,758.2 L1700.1,759.8 L1702.4,761.4 L1704.7,762.9 L1707.0,764.5 L1709.4,766.0 L1711.7,767.5 L1714.0,769.0 L1716.3,770.5 L1718.7,772.0 L1721.0,773.4 L1723.3,774.8 L1725.6,776.2 L1727.9,777.5 L1730.3,778.8 L1732.6,780.1 L1734.9,781.4 L1737.2,782.5 L1739.6,783.7 L1741.9,784.8 L1744.2,785.8 L1746.5,786.8 L1748.8,787.8 L1751.2,788.7 L1753.5,789.5 L1755.8,790.3 L1758.1,791.1 L1760.5,791.8 L1762.8,792.5 L1765.1,793.1 L1767.4,793.7 L1769.7,794.2 L1772.1,794.8 L1774.4,795.3 L1776.7,795.7 L1779.0,796.2 L1781.4,796.7 L1783.7,797.2 L1786.0,797.6 L1788.3,798.1 L1790.7,798.6 L1793.0,799.0 L1795.3,799.5 L1797.6,800.0 L1799.9,800.5 L1802.3,801.1 L1804.6,801.6 L1806.9,802.1 L1809.2,802.7 L1811.6,803.2 L1813.9,803.8 L1816.2,804.4 L1818.5,805.0 L1820.8,805.6 L1823.2,806.2 L1825.5,806.9 L1827.8,807.5 L1830.1,808.2 L1832.5,808.8 L1834.8,809.5 L1837.1,810.2 L1839.4,810.9 L1841.7,811.6 L1844.1,812.3 L1846.4,813.1 L1848.7,813.8 L1851.0,814.6 L1853.4,815.4 L1855.7,816.3 L1858.0,817.1 L1860.3,817.9 L1862.7,818.8 L1865.0,819.7 L1867.3,820.6 L1869.6,821.5 L1871.9,822.4 L1874.3,823.3 L1876.6,824.2 L1878.9,825.2 L1881.2,826.1 L1883.6,827.1 L1885.9,828.0 L1888.2,828.9 L1890.5,829.9 L1892.8,830.8 L1895.2,831.7 L1897.5,832.7 L1899.8,833.6 L1902.1,834.5 L1904.5,835.4 L1906.8,836.2 L1909.1,837.1 L1911.4,838.0 L1913.7,838.9 L1916.1,839.8 L1918.4,840.6 L1920.7,841.5 L1923.0,842.4 L1925.4,843.2 L1927.7,844.1 L1930.0,844.9 L1932.3,845.8 L1934.6,846.6 L1937.0,847.4 L1939.3,848.2 L1941.6,849.0 L1943.9,849.8 L1946.3,850.5 L1948.6,851.3 L1950.9,852.0 L1953.2,852.7 L1955.6,853.4 L1957.9,854.1 L1960.2,854.8 L1962.5,855.5 L1964.8,856.2 L1967.2,856.8 L1969.5,857.5 L1971.8,858.2 L1974.1,858.9 L1976.5,859.6 L1978.8,860.2 L1981.1,860.9 L1983.4,861.6 L1985.7,862.2 L1988.1,862.9 L1990.4,863.6 L1992.7,864.2 L1995.0,864.9 L1997.4,865.6 L1999.7,866.2 L2002.0,866.9 L2004.3,867.6 L2006.6,868.3 L2009.0,869.0 L2011.3,869.7 L2013.6,870.5 L2015.9,871.2 L2018.3,872.0 L2020.6,872.8 L2022.9,873.6 L2025.2,874.4 L2027.6,875.3 L2029.9,876.1 L2032.2,877.0 L2034.5,877.9 L2036.8,878.7 L2039.2,879.6 L2041.5,880.5 L2043.8,881.3 L2046.1,882.2 L2048.5,883.1 L2050.8,883.9 L2053.1,884.8 L2055.4,885.7 L2057.7,886.5 L2060.1,887.3 L2062.4,888.2 L2064.7,889.0 L2067.0,889.8 L2069.4,890.6 L2071.7,891.4 L2074.0,892.1 L2076.3,892.9 L2078.6,893.6 L2081.0,894.4 L2083.3,895.1 L2085.6,895.8 L2087.9,896.6 L2090.3,897.3 L2092.6,898.0 L2094.9,898.6 L2097.2,899.3 L2099.6,900.0 L2101.9,900.6 L2104.2,901.3 L2106.5,901.9 L2108.8,902.5 L2111.2,903.1 L2113.5,903.7 L2115.8,904.3 L2118.1,904.9 L2120.5,905.5 L2122.8,906.0 L2125.1,906.6 L2127.4,907.1 L2129.7,907.6 L2132.1,908.2 L2134.4,908.7 L2136.7,909.2 L2139.0,909.7 L2141.4,910.2 L2143.7,910.6 L2146.0,911.1 L2148.3,911.6 L2150.6,912.1 L2153.0,912.5 L2155.3,913.0 L2157.6,913.5 L2159.9,913.9 L2162.3,914.4 L2164.6,914.9 L2166.9,915.3 L2169.2,915.8 L2171.6,916.2 L2173.9,916.7 L2176.2,917.1 L2178.5,917.5 L2180.8,917.9 L2183.2,918.4 L2185.5,918.8 L2187.8,919.2 L2190.1,919.5 L2192.5,919.9 L2194.8,920.3 L2197.1,920.7 L2199.4,921.0 L2201.7,921.4 L2204.1,921.7 L2206.4,922.0 L2208.7,922.3 L2211.0,922.6 L2213.4,922.9 L2215.7,923.2 L2218.0,923.5 L2220.3,923.8 L2222.6,924.1 L2225.0,924.4 L2227.3,924.7 L2229.6,924.9 L2231.9,925.2 L2234.3,925.5 L2236.6,925.8 L2238.9,926.0 L2241.2,926.3 L2243.5,926.6 L2245.9,926.9 L2248.2,927.1 L2250.5,927.4 L2252.8,927.7 L2255.2,927.9 L2257.5,928.2 L2259.8,928.5 L2262.1,928.8 L2264.5,929.0 L2266.8,929.3 L2269.1,929.6 L2271.4,929.9 L2273.7,930.1 L2276.1,930.4 L2278.4,930.7 L2280.7,930.9 L2283.0,931.2 L2285.4,931.4 L2287.7,931.7 L2290.0,932.0 L2292.3,932.2 L2294.6,932.5 L2297.0,932.7 L2299.3,933.0 L2301.6,933.2 L2303.9,933.5 L2306.3,933.7 L2308.6,934.0 L2310.9,934.2 L2313.2,934.5 L2315.5,934.7 L2317.9,935.0 L2320.2,935.2 L2322.5,935.5 L2324.8,935.8 L2327.2,936.0 L2329.5,936.2 L2331.8,936.5 L2334.1,936.7 L2336.5,937.0 L2338.8,937.2 L2341.1,937.5 L2343.4,937.7 L2345.7,937.9 L2348.1,938.1 L2350.4,938.4 L2352.7,938.6 L2355.0,938.8 L2357.4,939.0 L2359.7,939.2 L2362.0,939.4" stroke="#ff1f8f" stroke-width="5.3" stroke-dasharray="9.2 15.75" stroke-linecap="round"/>
<path d="M1435.3,451.7 L1437.6,460.6 L1439.9,469.0 L1442.3,476.9 L1444.6,484.3 L1446.9,491.2 L1449.2,497.7 L1451.6,503.8 L1453.9,509.5 L1456.2,514.9 L1458.5,520.0 L1460.8,524.9 L1463.2,529.5 L1465.5,533.9 L1467.8,538.2 L1470.1,542.3 L1472.5,546.3 L1474.8,550.3 L1477.1,554.1 L1479.4,557.8 L1481.8,561.5 L1484.1,565.0 L1486.4,568.5 L1488.7,571.9 L1491.0,575.3 L1493.4,578.6 L1495.7,581.8 L1498.0,584.9 L1500.3,588.1 L1502.7,591.2 L1505.0,594.2 L1507.3,597.3 L1509.6,600.3 L1511.9,603.3 L1514.3,606.3 L1516.6,609.3 L1518.9,612.2 L1521.2,615.1 L1523.6,618.0 L1525.9,620.8 L1528.2,623.6 L1530.5,626.3 L1532.8,629.0 L1535.2,631.6 L1537.5,634.1 L1539.8,636.5 L1542.1,638.8 L1544.5,641.1 L1546.8,643.2 L1549.1,645.2 L1551.4,647.1 L1553.8,648.9 L1556.1,650.6 L1558.4,652.1 L1560.7,653.6 L1563.0,655.0 L1565.4,656.3 L1567.7,657.5 L1570.0,658.6 L1572.3,659.7 L1574.7,660.7 L1577.0,661.7 L1579.3,662.6 L1581.6,663.6 L1583.9,664.5 L1586.3,665.4 L1588.6,666.4 L1590.9,667.4 L1593.2,668.5 L1595.6,669.6 L1597.9,670.7 L1600.2,671.9 L1602.5,673.2 L1604.8,674.5 L1607.2,676.0 L1609.5,677.5 L1611.8,679.1 L1614.1,680.8 L1616.5,682.6 L1618.8,684.5 L1621.1,686.6 L1623.4,688.7 L1625.7,691.0 L1628.1,693.4 L1630.4,695.9 L1632.7,698.5 L1635.0,701.2 L1637.4,703.8 L1639.7,706.5 L1642.0,709.1 L1644.3,711.8 L1646.7,714.4 L1649.0,716.9 L1651.3,719.5 L1653.6,721.9 L1655.9,724.4 L1658.3,726.7 L1660.6,729.1 L1662.9,731.3 L1665.2,733.5 L1667.6,735.6 L1669.9,737.6 L1672.2,739.6 L1674.5,741.5 L1676.8,743.3 L1679.2,745.0 L1681.5,746.6 L1683.8,748.0 L1686.1,749.4 L1688.5,750.7 L1690.8,751.8 L1693.1,752.8 L1695.4,753.6 L1697.7,754.3 L1700.1,754.9 L1702.4,755.2 L1704.7,755.5 L1707.0,755.6 L1709.4,755.6 L1711.7,755.5 L1714.0,755.2 L1716.3,754.8 L1718.7,754.4 L1721.0,753.8 L1723.3,753.2 L1725.6,752.6 L1727.9,751.9 L1730.3,751.2 L1732.6,750.5 L1734.9,749.7 L1737.2,749.0 L1739.6,748.3 L1741.9,747.6 L1744.2,746.9 L1746.5,746.3 L1748.8,745.7 L1751.2,745.2 L1753.5,744.7 L1755.8,744.4 L1758.1,744.1 L1760.5,743.9 L1762.8,743.8 L1765.1,743.8 L1767.4,743.9 L1769.7,744.1 L1772.1,744.4 L1774.4,744.8 L1776.7,745.4 L1779.0,746.0 L1781.4,746.7 L1783.7,747.5 L1786.0,748.4 L1788.3,749.4 L1790.7,750.5 L1793.0,751.6 L1795.3,752.7 L1797.6,753.9 L1799.9,755.2 L1802.3,756.5 L1804.6,757.8 L1806.9,759.2 L1809.2,760.5 L1811.6,761.9 L1813.9,763.3 L1816.2,764.7 L1818.5,766.1 L1820.8,767.4 L1823.2,768.8 L1825.5,770.2 L1827.8,771.6 L1830.1,772.9 L1832.5,774.3 L1834.8,775.6 L1837.1,777.0 L1839.4,778.3 L1841.7,779.6 L1844.1,780.9 L1846.4,782.2 L1848.7,783.4 L1851.0,784.7 L1853.4,785.9 L1855.7,787.2 L1858.0,788.4 L1860.3,789.6 L1862.7,790.8 L1865.0,792.0 L1867.3,793.1 L1869.6,794.3 L1871.9,795.4 L1874.3,796.5 L1876.6,797.6 L1878.9,798.7 L1881.2,799.7 L1883.6,800.7 L1885.9,801.7 L1888.2,802.7 L1890.5,803.7 L1892.8,804.7 L1895.2,805.6 L1897.5,806.5 L1899.8,807.5 L1902.1,808.4 L1904.5,809.3 L1906.8,810.2 L1909.1,811.1 L1911.4,812.0 L1913.7,812.9 L1916.1,813.8 L1918.4,814.7 L1920.7,815.5 L1923.0,816.4 L1925.4,817.2 L1927.7,818.0 L1930.0,818.8 L1932.3,819.6 L1934.6,820.4 L1937.0,821.2 L1939.3,821.9 L1941.6,822.7 L1943.9,823.4 L1946.3,824.1 L1948.6,824.8 L1950.9,825.6 L1953.2,826.3 L1955.6,827.0 L1957.9,827.7 L1960.2,828.3 L1962.5,829.0 L1964.8,829.7 L1967.2,830.4 L1969.5,831.0 L1971.8,831.7 L1974.1,832.4 L1976.5,833.0 L1978.8,833.6 L1981.1,834.2 L1983.4,834.8 L1985.7,835.4 L1988.1,836.0 L1990.4,836.6 L1992.7,837.2 L1995.0,837.8 L1997.4,838.4 L1999.7,839.0 L2002.0,839.6 L2004.3,840.1 L2006.6,840.7 L2009.0,841.3 L2011.3,841.9 L2013.6,842.5 L2015.9,843.0 L2018.3,843.6 L2020.6,844.2 L2022.9,844.7 L2025.2,845.3 L2027.6,845.8 L2029.9,846.4 L2032.2,846.9 L2034.5,847.4 L2036.8,848.0 L2039.2,848.5 L2041.5,849.0 L2043.8,849.5 L2046.1,850.0 L2048.5,850.5 L2050.8,850.9 L2053.1,851.4 L2055.4,851.9 L2057.7,852.3 L2060.1,852.8 L2062.4,853.3 L2064.7,853.7 L2067.0,854.1 L2069.4,854.6 L2071.7,855.0 L2074.0,855.5 L2076.3,855.9 L2078.6,856.3 L2081.0,856.7 L2083.3,857.2 L2085.6,857.6 L2087.9,858.0 L2090.3,858.4 L2092.6,858.9 L2094.9,859.3 L2097.2,859.7 L2099.6,860.1 L2101.9,860.5 L2104.2,860.9 L2106.5,861.3 L2108.8,861.7 L2111.2,862.1 L2113.5,862.6 L2115.8,863.0 L2118.1,863.4 L2120.5,863.8 L2122.8,864.2 L2125.1,864.6 L2127.4,865.0 L2129.7,865.4 L2132.1,865.8 L2134.4,866.2 L2136.7,866.6 L2139.0,867.0 L2141.4,867.4 L2143.7,867.8 L2146.0,868.2 L2148.3,868.6 L2150.6,869.0 L2153.0,869.4 L2155.3,869.8 L2157.6,870.2 L2159.9,870.6 L2162.3,870.9 L2164.6,871.3 L2166.9,871.7 L2169.2,872.1 L2171.6,872.5 L2173.9,872.8 L2176.2,873.2 L2178.5,873.6 L2180.8,874.0 L2183.2,874.3 L2185.5,874.7 L2187.8,875.0 L2190.1,875.4 L2192.5,875.7 L2194.8,876.0 L2197.1,876.4 L2199.4,876.7 L2201.7,877.0 L2204.1,877.3 L2206.4,877.6 L2208.7,877.9 L2211.0,878.2 L2213.4,878.5 L2215.7,878.8 L2218.0,879.1 L2220.3,879.4 L2222.6,879.7 L2225.0,880.0 L2227.3,880.2 L2229.6,880.5 L2231.9,880.8 L2234.3,881.1 L2236.6,881.3 L2238.9,881.6 L2241.2,881.9 L2243.5,882.1 L2245.9,882.4 L2248.2,882.7 L2250.5,882.9 L2252.8,883.2 L2255.2,883.4 L2257.5,883.7 L2259.8,884.0 L2262.1,884.2 L2264.5,884.5 L2266.8,884.7 L2269.1,885.0 L2271.4,885.2 L2273.7,885.5 L2276.1,885.7 L2278.4,886.0 L2280.7,886.2 L2283.0,886.5 L2285.4,886.7 L2287.7,887.0 L2290.0,887.2 L2292.3,887.5 L2294.6,887.7 L2297.0,887.9 L2299.3,888.2 L2301.6,888.4 L2303.9,888.7 L2306.3,888.9 L2308.6,889.1 L2310.9,889.4 L2313.2,889.6 L2315.5,889.8 L2317.9,890.1 L2320.2,890.3 L2322.5,890.5 L2324.8,890.7 L2327.2,891.0 L2329.5,891.2 L2331.8,891.4 L2334.1,891.6 L2336.5,891.9 L2338.8,892.1 L2341.1,892.3 L2343.4,892.5 L2345.7,892.7 L2348.1,892.9 L2350.4,893.1 L2352.7,893.4 L2355.0,893.6 L2357.4,893.8 L2359.7,894.0 L2362.0,894.2" stroke="#0000ff" stroke-width="5.4"/>
</g>
<rect x="1435.3" y="211.2" width="926.1" height="744.7" fill="none" stroke="#000" stroke-width="2.7"/>
<path d="M1512.5,955.9 v-5.5 M1589.7,955.9 v-10 M1666.8,955.9 v-5.5 M1744.0,955.9 v-10 M1821.2,955.9 v-5.5 M1898.3,955.9 v-10 M1975.5,955.9 v-5.5 M2052.7,955.9 v-10 M2129.9,955.9 v-5.5 M2207.1,955.9 v-10 M2284.2,955.9 v-5.5 M1435.3,944.7 h10 M1435.3,883.6 h5.5 M1435.3,822.6 h10 M1435.3,761.5 h5.5 M1435.3,700.5 h10 M1435.3,639.4 h5.5 M1435.3,578.3 h10 M1435.3,517.3 h5.5 M1435.3,456.2 h10 M1435.3,395.2 h5.5 M1435.3,334.1 h10 M1435.3,273.0 h5.5" stroke="#000" stroke-width="2.4" fill="none"/>
<text x="1435.3" y="992.3" font-size="32" text-anchor="middle">400</text>
<text x="1589.7" y="992.3" font-size="32" text-anchor="middle">450</text>
<text x="1744.0" y="992.3" font-size="32" text-anchor="middle">500</text>
<text x="1898.3" y="992.3" font-size="32" text-anchor="middle">550</text>
<text x="2052.7" y="992.3" font-size="32" text-anchor="middle">600</text>
<text x="2207.1" y="992.3" font-size="32" text-anchor="middle">650</text>
<text x="2361.4" y="992.3" font-size="32" text-anchor="middle">700</text>
<text x="1423.5" y="955.0" font-size="32" text-anchor="end">0.2</text>
<text x="1423.5" y="832.9" font-size="32" text-anchor="end">0.4</text>
<text x="1423.5" y="710.8" font-size="32" text-anchor="end">0.6</text>
<text x="1423.5" y="588.6" font-size="32" text-anchor="end">0.8</text>
<text x="1423.5" y="466.5" font-size="32" text-anchor="end">1.0</text>
<text x="1423.5" y="344.4" font-size="32" text-anchor="end">1.2</text>
<text x="1423.5" y="222.3" font-size="32" text-anchor="end">1.4</text>
<text class="b" x="1900" y="1042" font-size="42" text-anchor="middle" textLength="311" lengthAdjust="spacing">Wavelength(nm)</text>
<text class="b" transform="translate(1369,583) rotate(-90)" font-size="42" text-anchor="middle" textLength="538" lengthAdjust="spacing">Absorption coefficients(×10<tspan font-size="30" dy="-17.5">5</tspan><tspan dy="17.5">)</tspan></text>
<line x1="2116.0" y1="248.3" x2="2204.5" y2="248.3" stroke="#000000" stroke-width="5.6" stroke-linecap="round"/>
<line x1="2116.0" y1="306.4" x2="2207.5" y2="306.4" stroke="#f0620a" stroke-width="5.4" stroke-dasharray="9.3 15.7" stroke-linecap="round"/>
<line x1="2116.0" y1="364.9" x2="2207.5" y2="364.9" stroke="#7570b3" stroke-width="5.4" stroke-dasharray="9.3 15.7" stroke-linecap="round"/>
<line x1="2116.0" y1="423.0" x2="2207.5" y2="423.0" stroke="#ff1f8f" stroke-width="5.4" stroke-dasharray="9.3 15.7" stroke-linecap="round"/>
<line x1="2116.0" y1="480.8" x2="2204.5" y2="480.8" stroke="#0000ff" stroke-width="5.6" stroke-linecap="round"/>
<text x="2214.6" y="261.6" font-size="39.5">δ-CsPbI<tspan font-size="28" dy="11.4" dx="0.5">3</tspan></text>
<text x="2215.6" y="320" font-size="40">V<tspan font-size="26.5" dy="10.5" dx="-1">Cs</tspan></text>
<text x="2215.6" y="378.4" font-size="40">V<tspan font-size="26.5" dy="10.5" dx="-0.5">I</tspan></text>
<text x="2215.6" y="436.8" font-size="40">V<tspan font-size="26.5" dy="10.5" dx="-1">CsI</tspan></text>
<text x="2215.6" y="495" font-size="40">V<tspan font-size="25.5" dy="11" dx="0">PbI</tspan><tspan font-size="17" dy="7">2</tspan></text>
</svg></body></html>
